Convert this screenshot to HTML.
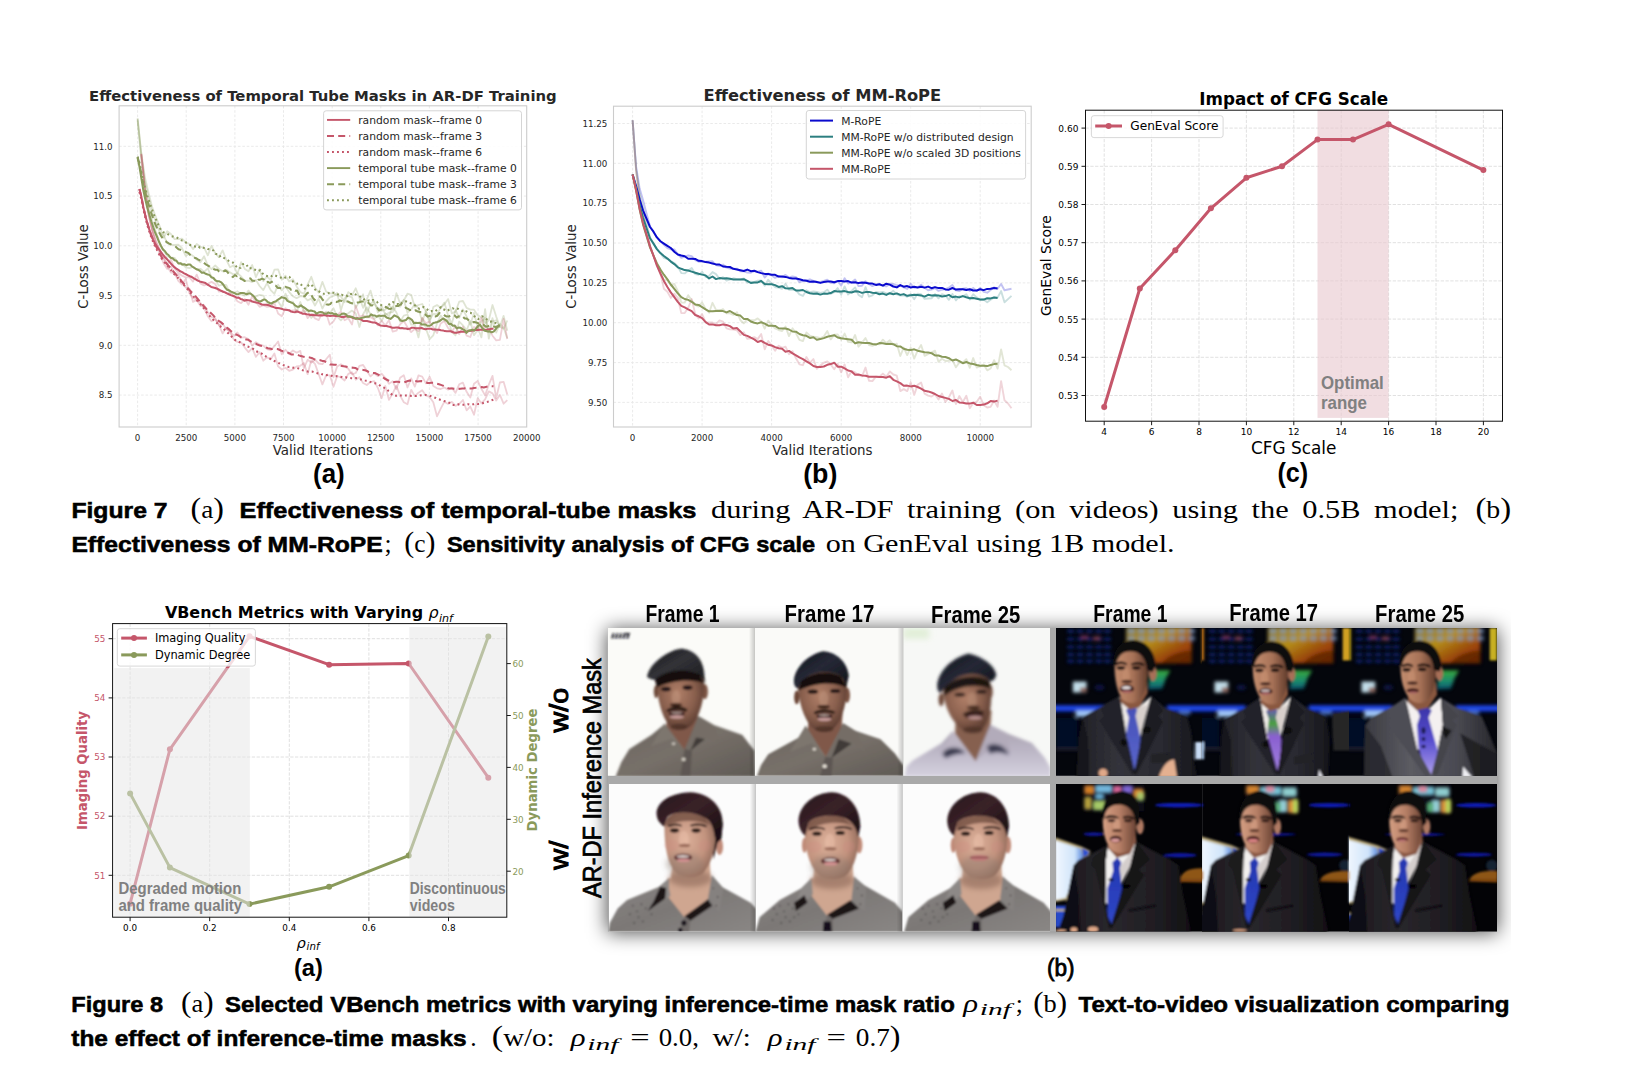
<!DOCTYPE html>
<html><head><meta charset="utf-8"><title>Figure 7 and Figure 8</title>
<style>html,body{margin:0;padding:0;background:#fff}svg{display:block}</style></head>
<body><svg width="1638" height="1084" viewBox="0 0 1638 1084">
<rect width="1638" height="1084" fill="#fff"/>
<g id="chartA">
<rect x="119.1" y="105.8" width="407.6" height="321.2" fill="#fff"/>
<line x1="137.6" y1="105.8" x2="137.6" y2="427.0" stroke="#e8e8e8" stroke-width="0.9" stroke-dasharray="2.6 1.8"/>
<text x="137.60" y="441.30" font-size="8.7" font-family="'DejaVu Sans','Liberation Sans',sans-serif" fill="#262626" text-anchor="middle">0</text>
<line x1="186.2" y1="105.8" x2="186.2" y2="427.0" stroke="#e8e8e8" stroke-width="0.9" stroke-dasharray="2.6 1.8"/>
<text x="186.24" y="441.30" font-size="8.7" font-family="'DejaVu Sans','Liberation Sans',sans-serif" fill="#262626" text-anchor="middle">2500</text>
<line x1="234.9" y1="105.8" x2="234.9" y2="427.0" stroke="#e8e8e8" stroke-width="0.9" stroke-dasharray="2.6 1.8"/>
<text x="234.88" y="441.30" font-size="8.7" font-family="'DejaVu Sans','Liberation Sans',sans-serif" fill="#262626" text-anchor="middle">5000</text>
<line x1="283.5" y1="105.8" x2="283.5" y2="427.0" stroke="#e8e8e8" stroke-width="0.9" stroke-dasharray="2.6 1.8"/>
<text x="283.52" y="441.30" font-size="8.7" font-family="'DejaVu Sans','Liberation Sans',sans-serif" fill="#262626" text-anchor="middle">7500</text>
<line x1="332.2" y1="105.8" x2="332.2" y2="427.0" stroke="#e8e8e8" stroke-width="0.9" stroke-dasharray="2.6 1.8"/>
<text x="332.16" y="441.30" font-size="8.7" font-family="'DejaVu Sans','Liberation Sans',sans-serif" fill="#262626" text-anchor="middle">10000</text>
<line x1="380.8" y1="105.8" x2="380.8" y2="427.0" stroke="#e8e8e8" stroke-width="0.9" stroke-dasharray="2.6 1.8"/>
<text x="380.80" y="441.30" font-size="8.7" font-family="'DejaVu Sans','Liberation Sans',sans-serif" fill="#262626" text-anchor="middle">12500</text>
<line x1="429.4" y1="105.8" x2="429.4" y2="427.0" stroke="#e8e8e8" stroke-width="0.9" stroke-dasharray="2.6 1.8"/>
<text x="429.44" y="441.30" font-size="8.7" font-family="'DejaVu Sans','Liberation Sans',sans-serif" fill="#262626" text-anchor="middle">15000</text>
<line x1="478.1" y1="105.8" x2="478.1" y2="427.0" stroke="#e8e8e8" stroke-width="0.9" stroke-dasharray="2.6 1.8"/>
<text x="478.08" y="441.30" font-size="8.7" font-family="'DejaVu Sans','Liberation Sans',sans-serif" fill="#262626" text-anchor="middle">17500</text>
<text x="526.72" y="441.30" font-size="8.7" font-family="'DejaVu Sans','Liberation Sans',sans-serif" fill="#262626" text-anchor="middle">20000</text>
<line x1="119.1" y1="395.1" x2="526.7" y2="395.1" stroke="#e8e8e8" stroke-width="0.9" stroke-dasharray="2.6 1.8"/>
<text x="112.50" y="398.35" font-size="8.7" font-family="'DejaVu Sans','Liberation Sans',sans-serif" fill="#262626" text-anchor="end">8.5</text>
<line x1="119.1" y1="345.3" x2="526.7" y2="345.3" stroke="#e8e8e8" stroke-width="0.9" stroke-dasharray="2.6 1.8"/>
<text x="112.50" y="348.60" font-size="8.7" font-family="'DejaVu Sans','Liberation Sans',sans-serif" fill="#262626" text-anchor="end">9.0</text>
<line x1="119.1" y1="295.6" x2="526.7" y2="295.6" stroke="#e8e8e8" stroke-width="0.9" stroke-dasharray="2.6 1.8"/>
<text x="112.50" y="298.85" font-size="8.7" font-family="'DejaVu Sans','Liberation Sans',sans-serif" fill="#262626" text-anchor="end">9.5</text>
<line x1="119.1" y1="245.8" x2="526.7" y2="245.8" stroke="#e8e8e8" stroke-width="0.9" stroke-dasharray="2.6 1.8"/>
<text x="112.50" y="249.10" font-size="8.7" font-family="'DejaVu Sans','Liberation Sans',sans-serif" fill="#262626" text-anchor="end">10.0</text>
<line x1="119.1" y1="196.1" x2="526.7" y2="196.1" stroke="#e8e8e8" stroke-width="0.9" stroke-dasharray="2.6 1.8"/>
<text x="112.50" y="199.35" font-size="8.7" font-family="'DejaVu Sans','Liberation Sans',sans-serif" fill="#262626" text-anchor="end">10.5</text>
<line x1="119.1" y1="146.3" x2="526.7" y2="146.3" stroke="#e8e8e8" stroke-width="0.9" stroke-dasharray="2.6 1.8"/>
<text x="112.50" y="149.60" font-size="8.7" font-family="'DejaVu Sans','Liberation Sans',sans-serif" fill="#262626" text-anchor="end">11.0</text>
<clipPath id="clipA"><rect x="119.1" y="105.8" width="407.6" height="321.2"/></clipPath>
<g clip-path="url(#clipA)">
<polyline points="137.6,118.2 141.3,153.0 145.0,177.6 148.7,193.5 152.4,207.9 156.1,217.5 159.8,226.4 163.5,237.8 167.2,231.3 170.9,234.0 174.6,239.1 178.3,239.2 182.0,238.6 185.7,242.4 189.4,243.8 193.0,249.1 196.7,244.0 200.4,246.8 204.1,247.7 207.8,255.3 211.5,245.9 215.2,253.1 218.9,257.1 222.6,250.4 226.3,259.9 230.0,267.2 233.7,265.4 237.4,274.0 241.1,262.2 244.8,268.9 248.5,271.3 252.2,265.0 255.9,277.1 259.6,269.2 263.3,281.2 267.0,276.5 270.7,280.0 274.4,269.7 278.1,269.4 281.8,279.7 285.5,275.7 289.2,281.4 292.9,279.2 296.6,286.4 300.3,292.1 303.9,293.8 307.6,284.6 311.3,276.8 315.0,287.6 318.7,292.8 322.4,281.9 326.1,291.5 329.8,293.4 333.5,293.5 337.2,295.4 340.9,296.4 344.6,302.3 348.3,292.1 352.0,295.3 355.7,288.3 359.4,297.9 363.1,307.8 366.8,299.3 370.5,290.6 374.2,303.7 377.9,308.1 381.6,310.9 385.3,309.6 389.0,304.8 392.7,309.6 396.4,293.2 400.1,303.3 403.8,300.5 407.5,293.7 411.2,294.8 414.8,306.9 418.5,305.0 422.2,304.0 425.9,311.4 429.6,323.1 433.3,307.0 437.0,305.1 440.7,307.8 444.4,304.3 448.1,299.1 451.8,313.3 455.5,311.7 459.2,301.7 462.9,301.0 466.6,307.9 470.3,309.6 474.0,309.7 477.7,315.4 481.4,317.4 485.1,323.2 488.8,320.3 492.5,305.0 496.2,316.6 499.9,326.8 503.6,315.9 507.3,330.8" fill="none" stroke="#8a9a5b" stroke-width="1.8" stroke-linejoin="round" stroke-opacity="0.27" />
<polyline points="137.6,119.2 141.3,154.7 145.0,182.6 148.7,198.2 152.4,213.5 156.1,222.5 159.8,232.8 163.5,234.8 167.2,243.1 170.9,244.7 174.6,245.0 178.3,244.7 182.0,248.2 185.7,255.9 189.4,253.5 193.0,256.0 196.7,259.5 200.4,262.3 204.1,256.3 207.8,265.5 211.5,269.1 215.2,265.5 218.9,268.9 222.6,271.3 226.3,269.7 230.0,272.4 233.7,274.5 237.4,273.2 241.1,276.5 244.8,280.8 248.5,280.6 252.2,282.1 255.9,279.9 259.6,286.0 263.3,290.1 267.0,283.1 270.7,290.1 274.4,293.8 278.1,284.7 281.8,290.4 285.5,286.2 289.2,292.1 292.9,296.2 296.6,298.2 300.3,296.2 303.9,296.4 307.6,300.4 311.3,298.6 315.0,305.5 318.7,298.7 322.4,308.5 326.1,301.3 329.8,297.5 333.5,296.0 337.2,292.9 340.9,310.2 344.6,298.2 348.3,296.0 352.0,297.4 355.7,307.9 359.4,301.4 363.1,294.3 366.8,313.9 370.5,303.8 374.2,301.2 377.9,312.4 381.6,305.7 385.3,314.7 389.0,312.7 392.7,312.1 396.4,305.6 400.1,306.7 403.8,299.8 407.5,312.7 411.2,309.4 414.8,304.3 418.5,308.4 422.2,321.9 425.9,311.0 429.6,319.8 433.3,313.9 437.0,314.1 440.7,307.7 444.4,302.6 448.1,315.4 451.8,323.8 455.5,310.0 459.2,317.9 462.9,309.4 466.6,316.5 470.3,324.7 474.0,313.0 477.7,327.4 481.4,337.4 485.1,309.1 488.8,338.7 492.5,321.4 496.2,320.3 499.9,327.0 503.6,328.6 507.3,320.5" fill="none" stroke="#8a9a5b" stroke-width="1.8" stroke-linejoin="round" stroke-opacity="0.27" />
<polyline points="137.6,120.5 141.3,160.5 145.0,188.5 148.7,205.8 152.4,221.6 156.1,232.2 159.8,242.8 163.5,250.4 167.2,256.4 170.9,257.3 174.6,257.8 178.3,263.7 182.0,263.5 185.7,267.4 189.4,268.1 193.0,267.0 196.7,269.6 200.4,268.8 204.1,271.9 207.8,268.4 211.5,277.2 215.2,280.0 218.9,285.7 222.6,284.7 226.3,285.1 230.0,293.1 233.7,293.4 237.4,291.2 241.1,294.3 244.8,295.7 248.5,290.6 252.2,295.8 255.9,296.4 259.6,294.8 263.3,295.7 267.0,302.8 270.7,304.4 274.4,301.4 278.1,301.3 281.8,307.2 285.5,293.6 289.2,302.0 292.9,301.6 296.6,312.5 300.3,302.0 303.9,311.9 307.6,310.6 311.3,317.9 315.0,313.0 318.7,314.5 322.4,315.4 326.1,311.7 329.8,313.0 333.5,308.3 337.2,316.7 340.9,320.4 344.6,316.0 348.3,313.2 352.0,310.6 355.7,313.5 359.4,327.0 363.1,314.3 366.8,307.4 370.5,314.2 374.2,318.7 377.9,315.5 381.6,321.1 385.3,313.4 389.0,316.1 392.7,306.7 396.4,312.5 400.1,321.7 403.8,315.6 407.5,314.5 411.2,324.6 414.8,324.7 418.5,337.4 422.2,318.1 425.9,328.5 429.6,339.1 433.3,335.3 437.0,323.6 440.7,315.5 444.4,320.8 448.1,319.2 451.8,331.9 455.5,335.3 459.2,321.5 462.9,325.4 466.6,330.3 470.3,321.0 474.0,335.2 477.7,330.0 481.4,321.6 485.1,318.0 488.8,332.3 492.5,318.1 496.2,332.6 499.9,324.0 503.6,327.7 507.3,338.2" fill="none" stroke="#8a9a5b" stroke-width="1.8" stroke-linejoin="round" stroke-opacity="0.27" />
<polyline points="141.3,154.6 145.0,191.7 148.7,216.0 152.4,231.7 156.1,245.0 159.8,254.2 163.5,263.2 167.2,268.9 170.9,266.5 174.6,273.4 178.3,280.9 182.0,284.5 185.7,278.9 189.4,293.2 193.0,298.0 196.7,299.3 200.4,302.7 204.1,308.4 207.8,316.3 211.5,321.3 215.2,319.2 218.9,324.8 222.6,333.4 226.3,327.6 230.0,332.4 233.7,339.3 237.4,341.9 241.1,342.3 244.8,347.6 248.5,352.1 252.2,348.2 255.9,356.8 259.6,352.1 263.3,360.7 267.0,357.4 270.7,359.2 274.4,353.5 278.1,366.4 281.8,369.5 285.5,367.8 289.2,370.8 292.9,369.6 296.6,366.4 300.3,365.8 303.9,363.0 307.6,374.2 311.3,360.3 315.0,363.9 318.7,374.2 322.4,384.4 326.1,375.3 329.8,375.3 333.5,386.8 337.2,376.0 340.9,377.5 344.6,380.5 348.3,373.9 352.0,372.3 355.7,379.7 359.4,377.3 363.1,383.0 366.8,385.0 370.5,382.0 374.2,381.1 377.9,388.0 381.6,398.2 385.3,386.0 389.0,399.9 392.7,393.3 396.4,385.7 400.1,395.6 403.8,402.3 407.5,404.2 411.2,389.8 414.8,396.1 418.5,392.7 422.2,390.3 425.9,395.6 429.6,396.9 433.3,402.2 437.0,416.3 440.7,408.7 444.4,401.7 448.1,403.9 451.8,401.9 455.5,405.9 459.2,404.0 462.9,400.0 466.6,410.3 470.3,406.5 474.0,414.7 477.7,398.2 481.4,403.2 485.1,399.3 488.8,391.4 492.5,393.4 496.2,400.5 499.9,394.9 503.6,403.7 507.3,400.2" fill="none" stroke="#c5566a" stroke-width="1.8" stroke-linejoin="round" stroke-opacity="0.27" />
<polyline points="141.3,154.0 145.0,188.6 148.7,214.4 152.4,230.2 156.1,242.4 159.8,250.5 163.5,256.4 167.2,266.3 170.9,272.5 174.6,273.1 178.3,274.8 182.0,282.5 185.7,287.5 189.4,288.5 193.0,301.9 196.7,299.9 200.4,306.1 204.1,305.1 207.8,312.3 211.5,317.3 215.2,318.2 218.9,325.1 222.6,323.7 226.3,329.2 230.0,331.4 233.7,335.9 237.4,332.5 241.1,337.7 244.8,337.2 248.5,339.1 252.2,345.5 255.9,342.2 259.6,344.6 263.3,345.6 267.0,349.1 270.7,350.1 274.4,346.2 278.1,341.5 281.8,354.3 285.5,349.7 289.2,354.2 292.9,350.4 296.6,352.7 300.3,350.9 303.9,368.2 307.6,359.8 311.3,362.5 315.0,359.7 318.7,363.5 322.4,364.2 326.1,359.2 329.8,354.7 333.5,377.3 337.2,366.4 340.9,364.2 344.6,366.3 348.3,368.7 352.0,374.3 355.7,373.0 359.4,365.8 363.1,365.0 366.8,370.8 370.5,376.4 374.2,373.1 377.9,376.2 381.6,373.7 385.3,377.8 389.0,383.7 392.7,381.3 396.4,389.2 400.1,377.8 403.8,375.2 407.5,387.5 411.2,378.4 414.8,386.6 418.5,375.4 422.2,376.6 425.9,383.4 429.6,376.7 433.3,386.0 437.0,388.3 440.7,389.0 444.4,387.5 448.1,389.6 451.8,387.8 455.5,392.9 459.2,384.3 462.9,382.6 466.6,391.8 470.3,397.5 474.0,383.8 477.7,381.0 481.4,388.7 485.1,395.4 488.8,384.7 492.5,375.9 496.2,398.0 499.9,382.5 503.6,381.8 507.3,394.4" fill="none" stroke="#c5566a" stroke-width="1.8" stroke-linejoin="round" stroke-opacity="0.27" />
<polyline points="141.3,153.7 145.0,189.4 148.7,213.0 152.4,230.6 156.1,241.4 159.8,249.5 163.5,258.7 167.2,264.3 170.9,259.4 174.6,268.4 178.3,272.8 182.0,275.7 185.7,277.3 189.4,277.1 193.0,281.6 196.7,274.6 200.4,283.5 204.1,285.4 207.8,283.8 211.5,281.9 215.2,284.0 218.9,291.5 222.6,290.8 226.3,292.9 230.0,293.3 233.7,295.9 237.4,301.2 241.1,303.2 244.8,299.0 248.5,304.7 252.2,296.4 255.9,302.0 259.6,306.8 263.3,305.2 267.0,306.8 270.7,306.4 274.4,303.1 278.1,313.5 281.8,316.2 285.5,308.2 289.2,311.1 292.9,310.5 296.6,310.1 300.3,313.4 303.9,310.0 307.6,318.1 311.3,314.2 315.0,318.4 318.7,320.1 322.4,312.6 326.1,313.0 329.8,324.7 333.5,321.3 337.2,315.1 340.9,311.7 344.6,320.2 348.3,318.2 352.0,324.5 355.7,305.7 359.4,316.5 363.1,315.3 366.8,317.4 370.5,317.0 374.2,319.6 377.9,325.4 381.6,320.8 385.3,325.5 389.0,320.2 392.7,331.6 396.4,330.7 400.1,324.3 403.8,321.0 407.5,327.3 411.2,332.1 414.8,328.9 418.5,331.2 422.2,317.7 425.9,323.4 429.6,321.4 433.3,327.5 437.0,333.1 440.7,323.5 444.4,321.1 448.1,328.0 451.8,332.2 455.5,325.6 459.2,334.2 462.9,326.8 466.6,335.6 470.3,337.0 474.0,327.0 477.7,328.1 481.4,317.5 485.1,331.0 488.8,328.6 492.5,335.7 496.2,340.4 499.9,339.9 503.6,319.0 507.3,339.0" fill="none" stroke="#c5566a" stroke-width="1.8" stroke-linejoin="round" stroke-opacity="0.27" />
<polyline points="139.4,189.0 141.3,196.4 143.2,206.4 145.2,215.1 147.1,222.3 149.1,228.9 151.0,234.5 153.0,239.4 154.9,243.3 156.9,246.3 158.8,249.2 160.8,251.9 162.7,254.4 164.6,256.7 166.6,258.8 168.5,260.9 170.5,263.2 172.4,265.3 174.4,267.2 176.3,268.6 178.3,269.9 180.2,271.3 182.2,272.1 184.1,273.4 186.0,274.3 188.0,275.3 189.9,276.2 191.9,277.0 193.8,278.3 195.8,279.3 197.7,280.6 199.7,281.4 201.6,281.9 203.6,282.5 205.5,283.1 207.4,284.5 209.4,285.7 211.3,287.0 213.3,287.5 215.2,288.0 217.2,288.8 219.1,289.7 221.1,290.8 223.0,291.7 225.0,292.4 226.9,293.4 228.8,294.3 230.8,295.1 232.7,295.8 234.7,296.5 236.6,297.7 238.6,297.6 240.5,298.9 242.5,299.5 244.4,300.7 246.4,300.1 248.3,300.2 250.3,300.4 252.2,301.6 254.1,302.1 256.1,302.4 258.0,302.7 260.0,303.7 261.9,304.5 263.9,304.7 265.8,304.8 267.8,305.0 269.7,305.6 271.7,306.6 273.6,307.1 275.5,307.9 277.5,307.9 279.4,308.3 281.4,308.7 283.3,309.4 285.3,309.7 287.2,309.9 289.2,310.2 291.1,311.6 293.1,312.1 295.0,312.2 296.9,311.5 298.9,312.1 300.8,312.8 302.8,313.7 304.7,313.7 306.7,314.2 308.6,314.4 310.6,315.0 312.5,314.8 314.5,315.3 316.4,315.1 318.3,315.5 320.3,315.3 322.2,315.4 324.2,315.1 326.1,315.6 328.1,315.6 330.0,315.9 332.0,315.7 333.9,315.7 335.9,316.0 337.8,315.7 339.7,316.4 341.7,316.9 343.6,317.0 345.6,316.5 347.5,316.2 349.5,316.5 351.4,317.3 353.4,318.0 355.3,318.5 357.3,318.3 359.2,318.9 361.1,319.5 363.1,320.9 365.0,320.9 367.0,321.0 368.9,321.4 370.9,322.0 372.8,322.4 374.8,322.6 376.7,323.3 378.7,324.5 380.6,325.6 382.6,325.7 384.5,326.1 386.4,326.0 388.4,326.6 390.3,327.0 392.3,327.7 394.2,327.8 396.2,327.6 398.1,327.5 400.1,328.2 402.0,328.0 404.0,328.4 405.9,328.6 407.8,329.1 409.8,328.8 411.7,327.7 413.7,327.7 415.6,328.2 417.6,328.2 419.5,328.2 421.5,327.9 423.4,328.8 425.4,329.2 427.3,328.8 429.2,328.7 431.2,328.8 433.1,329.6 435.1,329.4 437.0,329.7 439.0,329.7 440.9,330.3 442.9,330.4 444.8,331.1 446.8,331.3 448.7,331.2 450.6,331.3 452.6,332.0 454.5,332.8 456.5,332.7 458.4,332.3 460.4,331.8 462.3,331.7 464.3,331.8 466.2,331.4 468.2,331.2 470.1,330.6 472.0,330.6 474.0,330.3 475.9,330.0 477.9,330.1 479.8,329.8 481.8,329.7 483.7,329.4 485.7,329.9 487.6,329.5 489.6,329.3 491.5,328.8 493.5,328.8" fill="none" stroke="#c5566a" stroke-width="2.05" stroke-linejoin="round" stroke-linecap="butt"/>
<polyline points="139.4,189.0 141.3,196.4 143.2,206.4 145.2,215.1 147.1,222.4 149.1,229.0 151.0,234.6 153.0,239.7 154.9,244.2 156.9,248.0 158.8,251.8 160.8,255.4 162.7,258.7 164.6,261.3 166.6,263.5 168.5,265.6 170.5,268.0 172.4,270.4 174.4,272.7 176.3,274.9 178.3,277.1 180.2,279.4 182.2,281.8 184.1,284.0 186.0,286.2 188.0,288.4 189.9,290.5 191.9,292.5 193.8,294.3 195.8,296.6 197.7,298.9 199.7,301.4 201.6,303.3 203.6,305.9 205.5,307.9 207.4,310.2 209.4,311.6 211.3,313.4 213.3,315.4 215.2,317.7 217.2,319.6 219.1,321.1 221.1,322.4 223.0,324.0 225.0,325.9 226.9,327.7 228.8,329.1 230.8,330.9 232.7,332.6 234.7,333.9 236.6,334.7 238.6,335.7 240.5,336.9 242.5,338.1 244.4,338.9 246.4,339.6 248.3,339.8 250.3,341.2 252.2,342.3 254.1,343.2 256.1,343.8 258.0,344.8 260.0,345.6 261.9,346.1 263.9,346.5 265.8,347.3 267.8,348.2 269.7,348.6 271.7,349.1 273.6,348.8 275.5,348.8 277.5,349.0 279.4,349.8 281.4,350.7 283.3,351.3 285.3,351.3 287.2,352.3 289.2,353.2 291.1,354.4 293.1,354.4 295.0,354.5 296.9,354.6 298.9,355.4 300.8,356.1 302.8,356.6 304.7,357.0 306.7,357.4 308.6,357.3 310.6,357.7 312.5,358.3 314.5,359.4 316.4,359.7 318.3,359.9 320.3,360.2 322.2,360.9 324.2,361.1 326.1,362.0 328.1,363.0 330.0,364.4 332.0,364.4 333.9,364.8 335.9,364.8 337.8,365.5 339.7,365.6 341.7,365.9 343.6,366.2 345.6,366.4 347.5,367.0 349.5,367.5 351.4,367.6 353.4,367.7 355.3,367.9 357.3,369.2 359.2,369.7 361.1,369.8 363.1,369.9 365.0,370.2 367.0,371.0 368.9,372.1 370.9,372.8 372.8,373.0 374.8,373.0 376.7,373.9 378.7,374.9 380.6,376.1 382.6,377.0 384.5,378.5 386.4,379.5 388.4,380.5 390.3,381.2 392.3,381.9 394.2,382.0 396.2,381.8 398.1,381.8 400.1,382.2 402.0,382.4 404.0,382.3 405.9,381.7 407.8,381.1 409.8,380.6 411.7,380.6 413.7,380.8 415.6,381.1 417.6,381.5 419.5,381.3 421.5,381.1 423.4,381.4 425.4,382.2 427.3,382.9 429.2,382.9 431.2,382.7 433.1,382.8 435.1,383.1 437.0,383.7 439.0,384.2 440.9,384.9 442.9,385.6 444.8,386.5 446.8,387.7 448.7,388.4 450.6,388.4 452.6,388.6 454.5,388.9 456.5,389.2 458.4,388.9 460.4,388.8 462.3,388.6 464.3,388.4 466.2,387.9 468.2,388.4 470.1,388.4 472.0,388.4 474.0,387.9 475.9,387.7 477.9,387.3 479.8,387.2 481.8,387.1 483.7,387.4 485.7,386.9 487.6,386.6 489.6,386.1 491.5,386.2 493.5,386.3" fill="none" stroke="#c5566a" stroke-width="2.05" stroke-linejoin="round" stroke-dasharray="7 4.2" stroke-linecap="butt"/>
<polyline points="139.4,191.8 141.3,198.9 143.2,208.5 145.2,217.2 147.1,224.4 149.1,230.9 151.0,236.5 153.0,241.5 154.9,246.0 156.9,249.9 158.8,253.8 160.8,257.3 162.7,260.1 164.6,262.5 166.6,264.6 168.5,266.9 170.5,269.4 172.4,271.9 174.4,274.3 176.3,276.2 178.3,278.2 180.2,280.4 182.2,282.8 184.1,285.2 186.0,287.5 188.0,289.9 189.9,292.4 191.9,294.5 193.8,296.9 195.8,298.9 197.7,301.3 199.7,303.3 201.6,305.5 203.6,308.0 205.5,310.7 207.4,313.3 209.4,315.6 211.3,317.7 213.3,319.8 215.2,321.3 217.2,323.3 219.1,325.2 221.1,326.9 223.0,328.0 225.0,330.2 226.9,331.9 228.8,333.8 230.8,335.4 232.7,338.0 234.7,339.7 236.6,340.9 238.6,341.6 240.5,342.6 242.5,343.7 244.4,344.8 246.4,346.0 248.3,346.8 250.3,347.4 252.2,348.2 254.1,349.5 256.1,351.1 258.0,352.0 260.0,352.9 261.9,353.7 263.9,355.5 265.8,356.4 267.8,357.6 269.7,358.4 271.7,359.8 273.6,360.7 275.5,361.5 277.5,362.4 279.4,363.4 281.4,364.4 283.3,365.1 285.3,365.8 287.2,366.6 289.2,367.1 291.1,367.1 293.1,367.7 295.0,367.6 296.9,368.0 298.9,368.6 300.8,369.3 302.8,370.2 304.7,370.7 306.7,371.3 308.6,371.7 310.6,371.6 312.5,371.6 314.5,372.3 316.4,373.0 318.3,373.5 320.3,373.3 322.2,374.3 324.2,374.5 326.1,375.2 328.1,374.6 330.0,375.4 332.0,375.9 333.9,376.5 335.9,376.2 337.8,376.1 339.7,376.8 341.7,377.0 343.6,377.6 345.6,377.3 347.5,377.9 349.5,378.0 351.4,378.2 353.4,378.3 355.3,378.1 357.3,378.2 359.2,378.6 361.1,379.5 363.1,380.3 365.0,380.6 367.0,380.7 368.9,381.3 370.9,382.1 372.8,382.9 374.8,383.2 376.7,383.7 378.7,384.7 380.6,386.0 382.6,387.1 384.5,387.9 386.4,388.6 388.4,390.9 390.3,392.7 392.3,395.2 394.2,395.3 396.2,395.8 398.1,395.1 400.1,395.5 402.0,395.4 404.0,395.6 405.9,395.5 407.8,395.8 409.8,395.7 411.7,395.9 413.7,395.9 415.6,396.1 417.6,395.9 419.5,395.6 421.5,395.2 423.4,395.1 425.4,394.9 427.3,395.1 429.2,395.5 431.2,396.3 433.1,397.0 435.1,397.7 437.0,398.6 439.0,399.3 440.9,400.1 442.9,400.6 444.8,401.2 446.8,401.5 448.7,402.5 450.6,403.4 452.6,405.0 454.5,405.1 456.5,405.0 458.4,404.3 460.4,404.5 462.3,404.8 464.3,404.8 466.2,404.6 468.2,404.2 470.1,404.7 472.0,404.2 474.0,404.2 475.9,403.7 477.9,404.1 479.8,404.0 481.8,403.6 483.7,402.8 485.7,402.2 487.6,401.8 489.6,401.3 491.5,400.3 493.5,399.6" fill="none" stroke="#c5566a" stroke-width="2.05" stroke-linejoin="round" stroke-dasharray="1.9 3.1" stroke-linecap="butt"/>
<polyline points="137.6,157.9 139.5,166.8 141.5,179.1 143.4,190.5 145.4,199.8 147.3,207.8 149.3,214.4 151.2,221.3 153.2,227.3 155.1,232.5 157.1,237.0 159.0,241.8 160.9,245.7 162.9,249.4 164.8,251.0 166.8,253.8 168.7,255.3 170.7,257.8 172.6,258.3 174.6,260.3 176.5,260.8 178.5,263.5 180.4,263.2 182.3,264.6 184.3,264.2 186.2,265.2 188.2,264.6 190.1,264.5 192.1,266.5 194.0,267.7 196.0,269.0 197.9,269.7 199.9,270.9 201.8,272.8 203.8,272.5 205.7,273.8 207.6,274.4 209.6,275.1 211.5,277.3 213.5,278.0 215.4,280.4 217.4,281.2 219.3,281.3 221.3,282.3 223.2,284.5 225.2,287.6 227.1,289.7 229.0,290.3 231.0,291.6 232.9,292.4 234.9,293.3 236.8,294.3 238.8,293.9 240.7,293.0 242.7,293.0 244.6,293.3 246.6,294.4 248.5,293.5 250.4,293.5 252.4,295.0 254.3,296.9 256.3,299.9 258.2,300.9 260.2,301.6 262.1,300.5 264.1,299.4 266.0,300.1 268.0,302.1 269.9,303.0 271.8,303.4 273.8,301.9 275.7,301.6 277.7,299.8 279.6,298.7 281.6,297.1 283.5,297.8 285.5,298.2 287.4,300.8 289.4,301.8 291.3,302.6 293.2,303.4 295.2,305.5 297.1,306.7 299.1,306.7 301.0,305.4 303.0,307.0 304.9,308.0 306.9,309.6 308.8,310.9 310.8,310.5 312.7,311.1 314.6,311.5 316.6,313.7 318.5,312.5 320.5,312.0 322.4,312.3 324.4,313.8 326.3,313.8 328.3,312.5 330.2,313.4 332.2,313.1 334.1,314.2 336.1,314.0 338.0,315.5 339.9,315.2 341.9,313.7 343.8,313.6 345.8,314.2 347.7,316.6 349.7,316.6 351.6,316.8 353.6,317.7 355.5,318.7 357.5,318.6 359.4,318.5 361.3,317.9 363.3,317.6 365.2,317.1 367.2,316.6 369.1,316.6 371.1,314.4 373.0,315.5 375.0,315.5 376.9,316.7 378.9,315.6 380.8,315.9 382.7,315.7 384.7,315.7 386.6,317.5 388.6,318.2 390.5,318.9 392.5,317.2 394.4,315.3 396.4,316.4 398.3,317.4 400.3,320.2 402.2,321.0 404.1,320.4 406.1,319.9 408.0,317.8 410.0,318.5 411.9,319.8 413.9,323.1 415.8,322.8 417.8,322.9 419.7,322.8 421.7,324.4 423.6,324.4 425.5,324.5 427.5,325.8 429.4,325.8 431.4,324.8 433.3,323.0 435.3,322.6 437.2,322.0 439.2,321.3 441.1,319.9 443.1,318.5 445.0,319.6 447.0,321.1 448.9,324.0 450.8,323.7 452.8,325.8 454.7,325.6 456.7,328.3 458.6,327.6 460.6,327.8 462.5,329.1 464.5,330.2 466.4,332.9 468.4,330.6 470.3,330.6 472.2,329.7 474.2,330.6 476.1,328.4 478.1,325.9 480.0,324.8 482.0,327.7 483.9,330.2 485.9,331.1 487.8,331.5 489.8,331.3 491.7,332.3 493.6,331.6 495.6,329.3 497.5,326.9 499.5,324.8" fill="none" stroke="#8a9a5b" stroke-width="2.05" stroke-linejoin="round" stroke-linecap="butt"/>
<polyline points="137.6,157.0 139.5,164.2 141.5,174.5 143.4,184.4 145.4,192.9 147.3,200.4 149.3,206.5 151.2,212.8 153.2,218.5 155.1,223.8 157.1,228.1 159.0,232.1 160.9,235.6 162.9,238.6 164.8,240.6 166.8,242.1 168.7,243.4 170.7,244.3 172.6,245.1 174.6,245.7 176.5,247.4 178.5,249.2 180.4,249.7 182.3,250.6 184.3,250.8 186.2,252.2 188.2,252.9 190.1,254.9 192.1,256.2 194.0,257.6 196.0,258.2 197.9,259.3 199.9,260.3 201.8,261.5 203.8,262.8 205.7,264.3 207.6,265.3 209.6,266.6 211.5,268.1 213.5,269.1 215.4,269.7 217.4,269.7 219.3,271.9 221.3,271.9 223.2,271.7 225.2,270.4 227.1,271.6 229.0,274.0 231.0,275.3 232.9,277.1 234.9,275.1 236.8,276.2 238.8,275.3 240.7,278.7 242.7,279.6 244.6,281.0 246.6,279.6 248.5,278.6 250.4,278.4 252.4,280.8 254.3,280.8 256.3,282.1 258.2,279.8 260.2,279.7 262.1,278.7 264.1,279.7 266.0,282.7 268.0,281.8 269.9,283.0 271.8,281.7 273.8,284.9 275.7,285.6 277.7,287.9 279.6,287.9 281.6,288.3 283.5,287.7 285.5,287.1 287.4,287.4 289.4,288.1 291.3,289.9 293.2,289.4 295.2,290.8 297.1,290.6 299.1,294.4 301.0,295.4 303.0,296.7 304.9,296.0 306.9,293.5 308.8,292.4 310.8,293.9 312.7,297.5 314.6,300.1 316.6,297.9 318.5,296.6 320.5,296.6 322.4,299.5 324.4,301.5 326.3,304.3 328.3,304.8 330.2,304.1 332.2,301.7 334.1,301.7 336.1,302.1 338.0,301.5 339.9,300.4 341.9,300.9 343.8,301.8 345.8,301.6 347.7,301.4 349.7,302.5 351.6,303.3 353.6,303.4 355.5,303.6 357.5,302.5 359.4,302.3 361.3,301.5 363.3,301.5 365.2,301.4 367.2,301.7 369.1,303.5 371.1,305.4 373.0,305.2 375.0,306.5 376.9,307.4 378.9,310.4 380.8,309.9 382.7,309.1 384.7,307.2 386.6,307.3 388.6,308.7 390.5,308.9 392.5,307.7 394.4,306.0 396.4,306.0 398.3,306.0 400.3,304.6 402.2,304.3 404.1,305.9 406.1,308.0 408.0,308.9 410.0,310.1 411.9,309.9 413.9,311.2 415.8,310.3 417.8,311.6 419.7,312.1 421.7,312.1 423.6,313.5 425.5,314.7 427.5,316.6 429.4,316.0 431.4,315.7 433.3,316.5 435.3,316.4 437.2,315.8 439.2,313.1 441.1,313.7 443.1,313.8 445.0,315.7 447.0,316.6 448.9,316.5 450.8,315.2 452.8,314.7 454.7,315.5 456.7,317.6 458.6,316.3 460.6,316.9 462.5,316.1 464.5,318.4 466.4,318.4 468.4,320.0 470.3,321.8 472.2,322.4 474.2,322.0 476.1,322.4 478.1,323.2 480.0,324.5 482.0,324.3 483.9,324.9 485.9,326.7 487.8,326.2 489.8,325.6 491.7,325.7 493.6,326.5 495.6,326.9 497.5,326.3 499.5,326.6" fill="none" stroke="#8a9a5b" stroke-width="2.05" stroke-linejoin="round" stroke-dasharray="7 4.2" stroke-linecap="butt"/>
<polyline points="137.6,156.6 139.5,163.0 141.5,172.4 143.4,181.3 145.4,189.2 147.3,195.8 149.3,201.6 151.2,207.1 153.2,212.6 155.1,217.5 157.1,222.0 159.0,226.4 160.9,229.9 162.9,232.1 164.8,232.9 166.8,233.5 168.7,234.7 170.7,235.9 172.6,236.5 174.6,236.7 176.5,237.4 178.5,238.5 180.4,240.0 182.3,240.6 184.3,240.8 186.2,242.7 188.2,243.5 190.1,245.0 192.1,245.6 194.0,246.2 196.0,246.7 197.9,245.9 199.9,247.7 201.8,247.0 203.8,247.9 205.7,247.9 207.6,249.0 209.6,249.4 211.5,249.4 213.5,250.6 215.4,253.8 217.4,254.2 219.3,256.5 221.3,255.7 223.2,257.4 225.2,258.7 227.1,259.8 229.0,261.0 231.0,261.5 232.9,262.5 234.9,265.2 236.8,266.9 238.8,268.7 240.7,267.7 242.7,264.3 244.6,263.7 246.6,264.7 248.5,268.3 250.4,268.2 252.4,268.1 254.3,269.5 256.3,270.0 258.2,271.1 260.2,270.1 262.1,273.1 264.1,275.0 266.0,275.7 268.0,276.2 269.9,275.2 271.8,276.1 273.8,275.1 275.7,275.7 277.7,276.4 279.6,276.8 281.6,278.0 283.5,278.8 285.5,277.5 287.4,276.8 289.4,276.9 291.3,279.6 293.2,281.7 295.2,282.6 297.1,283.7 299.1,283.0 301.0,284.5 303.0,286.8 304.9,288.6 306.9,288.0 308.8,284.8 310.8,284.2 312.7,286.2 314.6,288.9 316.6,291.2 318.5,291.2 320.5,292.4 322.4,293.6 324.4,293.8 326.3,293.6 328.3,293.1 330.2,293.8 332.2,292.8 334.1,292.8 336.1,293.3 338.0,294.3 339.9,295.7 341.9,294.8 343.8,296.1 345.8,295.4 347.7,295.9 349.7,294.0 351.6,293.9 353.6,293.3 355.5,294.4 357.5,295.3 359.4,296.0 361.3,297.7 363.3,298.5 365.2,300.6 367.2,301.2 369.1,300.4 371.1,301.1 373.0,300.0 375.0,301.1 376.9,301.8 378.9,304.4 380.8,304.8 382.7,306.0 384.7,306.8 386.6,307.4 388.6,305.0 390.5,302.9 392.5,302.0 394.4,302.4 396.4,304.0 398.3,304.0 400.3,305.0 402.2,302.4 404.1,302.2 406.1,301.3 408.0,302.5 410.0,303.1 411.9,303.6 413.9,304.5 415.8,306.0 417.8,308.1 419.7,308.9 421.7,308.1 423.6,307.0 425.5,308.3 427.5,309.7 429.4,311.4 431.4,311.0 433.3,311.8 435.3,311.1 437.2,309.7 439.2,308.4 441.1,307.1 443.1,309.1 445.0,310.0 447.0,311.1 448.9,309.8 450.8,309.2 452.8,308.3 454.7,309.3 456.7,308.5 458.6,309.0 460.6,310.0 462.5,311.1 464.5,312.5 466.4,311.3 468.4,312.7 470.3,312.8 472.2,313.7 474.2,316.0 476.1,318.2 478.1,319.1 480.0,317.8 482.0,316.3 483.9,317.0 485.9,318.7 487.8,320.0 489.8,321.6 491.7,321.6 493.6,323.1 495.6,323.0 497.5,324.8 499.5,326.0" fill="none" stroke="#8a9a5b" stroke-width="2.05" stroke-linejoin="round" stroke-dasharray="1.9 3.1" stroke-linecap="butt"/>
</g>
<rect x="119.1" y="105.8" width="407.6" height="321.2" fill="none" stroke="#cccccc" stroke-width="1.1"/>
<rect x="323.6" y="110.8" width="197.9" height="99.1" rx="2.5" fill="#fff" fill-opacity="0.85" stroke="#d0d0d0" stroke-width="0.9"/>
<line x1="327" y1="119.9" x2="350.2" y2="119.9" stroke="#c5566a" stroke-width="1.9"/>
<text x="358.20" y="123.80" font-size="10.75" font-family="'DejaVu Sans','Liberation Sans',sans-serif" fill="#262626">random mask--frame 0</text>
<line x1="327" y1="136.0" x2="350.2" y2="136.0" stroke="#c5566a" stroke-width="1.9" stroke-dasharray="7 4.2"/>
<text x="358.20" y="139.87" font-size="10.75" font-family="'DejaVu Sans','Liberation Sans',sans-serif" fill="#262626">random mask--frame 3</text>
<line x1="327" y1="152.0" x2="350.2" y2="152.0" stroke="#c5566a" stroke-width="1.9" stroke-dasharray="1.9 3.1"/>
<text x="358.20" y="155.94" font-size="10.75" font-family="'DejaVu Sans','Liberation Sans',sans-serif" fill="#262626">random mask--frame 6</text>
<line x1="327" y1="168.1" x2="350.2" y2="168.1" stroke="#8a9a5b" stroke-width="1.9"/>
<text x="358.20" y="172.01" font-size="10.75" font-family="'DejaVu Sans','Liberation Sans',sans-serif" fill="#262626">temporal tube mask--frame 0</text>
<line x1="327" y1="184.2" x2="350.2" y2="184.2" stroke="#8a9a5b" stroke-width="1.9" stroke-dasharray="7 4.2"/>
<text x="358.20" y="188.08" font-size="10.75" font-family="'DejaVu Sans','Liberation Sans',sans-serif" fill="#262626">temporal tube mask--frame 3</text>
<line x1="327" y1="200.2" x2="350.2" y2="200.2" stroke="#8a9a5b" stroke-width="1.9" stroke-dasharray="1.9 3.1"/>
<text x="358.20" y="204.15" font-size="10.75" font-family="'DejaVu Sans','Liberation Sans',sans-serif" fill="#262626">temporal tube mask--frame 6</text>
<text x="322.90" y="100.80" font-size="14.83" font-family="'DejaVu Sans','Liberation Sans',sans-serif" fill="#262626" font-weight="bold" text-anchor="middle">Effectiveness of Temporal Tube Masks in AR-DF Training</text>
<text x="322.90" y="454.90" font-size="13.4" font-family="'DejaVu Sans','Liberation Sans',sans-serif" fill="#262626" text-anchor="middle">Valid Iterations</text>
<text x="88.00" y="266.50" font-size="13.4" font-family="'DejaVu Sans','Liberation Sans',sans-serif" fill="#262626" text-anchor="middle" transform="rotate(-90 88.00 266.50)">C-Loss Value</text>
</g>
<g id="chartB">
<rect x="613.5" y="106.2" width="417.70000000000005" height="320.8" fill="#fff"/>
<line x1="632.6" y1="106.2" x2="632.6" y2="427.0" stroke="#e8e8e8" stroke-width="0.9" stroke-dasharray="2.6 1.8"/>
<text x="632.60" y="441.30" font-size="8.7" font-family="'DejaVu Sans','Liberation Sans',sans-serif" fill="#262626" text-anchor="middle">0</text>
<line x1="702.1" y1="106.2" x2="702.1" y2="427.0" stroke="#e8e8e8" stroke-width="0.9" stroke-dasharray="2.6 1.8"/>
<text x="702.12" y="441.30" font-size="8.7" font-family="'DejaVu Sans','Liberation Sans',sans-serif" fill="#262626" text-anchor="middle">2000</text>
<line x1="771.6" y1="106.2" x2="771.6" y2="427.0" stroke="#e8e8e8" stroke-width="0.9" stroke-dasharray="2.6 1.8"/>
<text x="771.64" y="441.30" font-size="8.7" font-family="'DejaVu Sans','Liberation Sans',sans-serif" fill="#262626" text-anchor="middle">4000</text>
<line x1="841.2" y1="106.2" x2="841.2" y2="427.0" stroke="#e8e8e8" stroke-width="0.9" stroke-dasharray="2.6 1.8"/>
<text x="841.16" y="441.30" font-size="8.7" font-family="'DejaVu Sans','Liberation Sans',sans-serif" fill="#262626" text-anchor="middle">6000</text>
<line x1="910.7" y1="106.2" x2="910.7" y2="427.0" stroke="#e8e8e8" stroke-width="0.9" stroke-dasharray="2.6 1.8"/>
<text x="910.68" y="441.30" font-size="8.7" font-family="'DejaVu Sans','Liberation Sans',sans-serif" fill="#262626" text-anchor="middle">8000</text>
<line x1="980.2" y1="106.2" x2="980.2" y2="427.0" stroke="#e8e8e8" stroke-width="0.9" stroke-dasharray="2.6 1.8"/>
<text x="980.20" y="441.30" font-size="8.7" font-family="'DejaVu Sans','Liberation Sans',sans-serif" fill="#262626" text-anchor="middle">10000</text>
<line x1="613.5" y1="402.4" x2="1031.2" y2="402.4" stroke="#e8e8e8" stroke-width="0.9" stroke-dasharray="2.6 1.8"/>
<text x="607.30" y="405.70" font-size="8.7" font-family="'DejaVu Sans','Liberation Sans',sans-serif" fill="#262626" text-anchor="end">9.50</text>
<line x1="613.5" y1="362.6" x2="1031.2" y2="362.6" stroke="#e8e8e8" stroke-width="0.9" stroke-dasharray="2.6 1.8"/>
<text x="607.30" y="365.85" font-size="8.7" font-family="'DejaVu Sans','Liberation Sans',sans-serif" fill="#262626" text-anchor="end">9.75</text>
<line x1="613.5" y1="322.7" x2="1031.2" y2="322.7" stroke="#e8e8e8" stroke-width="0.9" stroke-dasharray="2.6 1.8"/>
<text x="607.30" y="326.00" font-size="8.7" font-family="'DejaVu Sans','Liberation Sans',sans-serif" fill="#262626" text-anchor="end">10.00</text>
<line x1="613.5" y1="282.9" x2="1031.2" y2="282.9" stroke="#e8e8e8" stroke-width="0.9" stroke-dasharray="2.6 1.8"/>
<text x="607.30" y="286.15" font-size="8.7" font-family="'DejaVu Sans','Liberation Sans',sans-serif" fill="#262626" text-anchor="end">10.25</text>
<line x1="613.5" y1="243.0" x2="1031.2" y2="243.0" stroke="#e8e8e8" stroke-width="0.9" stroke-dasharray="2.6 1.8"/>
<text x="607.30" y="246.30" font-size="8.7" font-family="'DejaVu Sans','Liberation Sans',sans-serif" fill="#262626" text-anchor="end">10.50</text>
<line x1="613.5" y1="203.2" x2="1031.2" y2="203.2" stroke="#e8e8e8" stroke-width="0.9" stroke-dasharray="2.6 1.8"/>
<text x="607.30" y="206.45" font-size="8.7" font-family="'DejaVu Sans','Liberation Sans',sans-serif" fill="#262626" text-anchor="end">10.75</text>
<line x1="613.5" y1="163.3" x2="1031.2" y2="163.3" stroke="#e8e8e8" stroke-width="0.9" stroke-dasharray="2.6 1.8"/>
<text x="607.30" y="166.60" font-size="8.7" font-family="'DejaVu Sans','Liberation Sans',sans-serif" fill="#262626" text-anchor="end">11.00</text>
<line x1="613.5" y1="123.5" x2="1031.2" y2="123.5" stroke="#e8e8e8" stroke-width="0.9" stroke-dasharray="2.6 1.8"/>
<text x="607.30" y="126.75" font-size="8.7" font-family="'DejaVu Sans','Liberation Sans',sans-serif" fill="#262626" text-anchor="end">11.25</text>
<clipPath id="clipB"><rect x="613.5" y="106.2" width="417.70000000000005" height="320.8"/></clipPath>
<g clip-path="url(#clipB)">
<polyline points="632.6,120.2 636.1,166.4 639.6,188.3 643.0,200.0 646.5,213.4 650.0,226.0 653.5,232.0 656.9,237.2 660.4,241.1 663.9,244.9 667.4,248.1 670.8,249.3 674.3,249.4 677.8,254.1 681.3,257.9 684.7,256.6 688.2,255.5 691.7,256.1 695.2,260.1 698.6,261.7 702.1,261.5 705.6,261.7 709.1,261.5 712.5,261.3 716.0,265.1 719.5,266.1 723.0,264.5 726.5,267.7 729.9,268.6 733.4,268.9 736.9,268.6 740.4,271.4 743.8,271.3 747.3,272.5 750.8,272.7 754.3,271.1 757.7,271.6 761.2,270.6 764.7,277.5 768.2,273.5 771.6,275.3 775.1,277.9 778.6,276.2 782.1,277.3 785.5,274.9 789.0,277.5 792.5,276.4 796.0,277.1 799.4,282.2 802.9,281.1 806.4,280.3 809.9,279.3 813.4,280.8 816.8,281.7 820.3,282.0 823.8,280.9 827.3,279.6 830.7,282.9 834.2,283.2 837.7,280.9 841.2,285.6 844.6,278.2 848.1,283.5 851.6,282.3 855.1,279.5 858.5,286.1 862.0,285.7 865.5,281.2 869.0,283.9 872.4,286.1 875.9,284.4 879.4,284.0 882.9,285.8 886.3,286.4 889.8,283.7 893.3,284.0 896.8,285.3 900.3,285.4 903.7,287.5 907.2,289.0 910.7,283.8 914.2,287.8 917.6,287.4 921.1,284.7 924.6,287.7 928.1,290.2 931.5,289.5 935.0,288.1 938.5,290.9 942.0,289.7 945.4,289.0 948.9,287.5 952.4,285.0 955.9,290.4 959.3,291.1 962.8,288.8 966.3,288.3 969.8,291.0 973.2,288.0 976.7,291.0 980.2,288.0 983.7,291.8 987.2,292.7 990.6,289.9 994.1,287.3 997.6,288.7 1001.1,284.0 1004.5,290.3 1008.0,289.5 1011.5,288.7" fill="none" stroke="#0a0acd" stroke-width="1.9" stroke-linejoin="round" stroke-opacity="0.25" />
<polyline points="632.6,120.2 636.1,168.8 639.6,193.6 643.0,207.5 646.5,222.8 650.0,237.2 653.5,243.5 656.9,249.0 660.4,253.2 663.9,258.0 667.4,258.8 670.8,261.0 674.3,263.0 677.8,266.4 681.3,273.1 684.7,273.4 688.2,270.5 691.7,268.1 695.2,274.0 698.6,274.8 702.1,271.9 705.6,277.0 709.1,275.8 712.5,272.1 716.0,274.1 719.5,278.9 723.0,277.1 726.5,280.5 729.9,279.7 733.4,278.3 736.9,279.1 740.4,279.3 743.8,278.5 747.3,282.5 750.8,281.7 754.3,281.9 757.7,280.6 761.2,280.4 764.7,285.8 768.2,279.8 771.6,283.4 775.1,287.2 778.6,287.5 782.1,288.8 785.5,283.7 789.0,289.7 792.5,289.9 796.0,290.2 799.4,294.4 802.9,295.9 806.4,290.3 809.9,292.3 813.4,291.5 816.8,291.9 820.3,292.9 823.8,292.2 827.3,289.7 830.7,294.0 834.2,292.2 837.7,288.1 841.2,294.6 844.6,286.4 848.1,294.5 851.6,290.9 855.1,287.4 858.5,294.9 862.0,297.2 865.5,287.2 869.0,296.6 872.4,295.3 875.9,292.0 879.4,292.4 882.9,292.0 886.3,293.4 889.8,293.4 893.3,290.8 896.8,294.4 900.3,295.5 903.7,295.2 907.2,296.9 910.7,293.9 914.2,299.2 917.6,293.8 921.1,294.3 924.6,298.8 928.1,298.5 931.5,298.4 935.0,294.1 938.5,298.3 942.0,294.2 945.4,295.3 948.9,299.8 952.4,293.9 955.9,300.3 959.3,296.1 962.8,296.4 966.3,294.3 969.8,299.6 973.2,294.3 976.7,297.4 980.2,299.8 983.7,299.5 987.2,302.3 990.6,299.7 994.1,297.4 997.6,297.5 1001.1,291.1 1004.5,302.3 1008.0,299.1 1011.5,295.9" fill="none" stroke="#2c7f80" stroke-width="1.9" stroke-linejoin="round" stroke-opacity="0.25" />
<polyline points="632.6,120.2 636.1,170.9 639.6,198.2 643.0,214.0 646.5,230.8 650.0,246.8 653.5,255.3 656.9,263.0 660.4,269.4 663.9,280.5 667.4,279.8 670.8,285.4 674.3,284.0 677.8,290.9 681.3,302.6 684.7,302.5 688.2,295.2 691.7,300.4 695.2,305.0 698.6,306.6 702.1,302.4 705.6,308.9 709.1,312.7 712.5,302.8 716.0,309.9 719.5,311.1 723.0,309.1 726.5,313.4 729.9,313.4 733.4,314.9 736.9,312.2 740.4,320.2 743.8,323.3 747.3,319.4 750.8,320.1 754.3,320.3 757.7,318.4 761.2,321.2 764.7,328.7 768.2,320.7 771.6,324.5 775.1,328.5 778.6,330.0 782.1,331.0 785.5,326.5 789.0,336.1 792.5,328.3 796.0,333.3 799.4,339.9 802.9,341.1 806.4,332.5 809.9,335.6 813.4,336.8 816.8,337.1 820.3,338.1 823.8,336.5 827.3,331.0 830.7,339.3 834.2,334.8 837.7,334.4 841.2,339.8 844.6,333.6 848.1,341.9 851.6,342.3 855.1,335.0 858.5,346.7 862.0,342.6 865.5,338.1 869.0,345.1 872.4,345.8 875.9,343.9 879.4,344.3 882.9,339.7 886.3,343.1 889.8,340.3 893.3,344.5 896.8,343.7 900.3,356.0 903.7,347.6 907.2,355.1 910.7,347.6 914.2,358.6 917.6,350.7 921.1,345.0 924.6,355.8 928.1,354.1 931.5,352.4 935.0,350.7 938.5,361.8 942.0,358.7 945.4,361.0 948.9,360.8 952.4,359.8 955.9,367.3 959.3,362.6 962.8,362.5 966.3,359.2 969.8,367.8 973.2,358.1 976.7,367.5 980.2,366.1 983.7,364.6 987.2,370.3 990.6,368.5 994.1,360.2 997.6,368.6 1001.1,349.5 1004.5,365.4 1008.0,367.0 1011.5,370.2" fill="none" stroke="#8a9a5b" stroke-width="1.9" stroke-linejoin="round" stroke-opacity="0.25" />
<polyline points="632.6,120.2 636.1,170.6 639.6,197.4 643.0,213.0 646.5,229.5 650.0,245.2 653.5,255.6 656.9,265.3 660.4,273.6 663.9,288.7 667.4,291.7 670.8,297.9 674.3,293.7 677.8,298.2 681.3,313.1 684.7,313.1 688.2,307.8 691.7,299.1 695.2,313.9 698.6,318.5 702.1,314.2 705.6,322.1 709.1,322.5 712.5,322.5 716.0,324.2 719.5,320.4 723.0,321.7 726.5,328.4 729.9,329.3 733.4,329.6 736.9,330.2 740.4,335.1 743.8,332.3 747.3,338.9 750.8,338.3 754.3,337.1 757.7,339.1 761.2,334.1 764.7,349.4 768.2,341.0 771.6,345.5 775.1,350.8 778.6,345.7 782.1,347.9 785.5,346.7 789.0,354.2 792.5,351.2 796.0,358.3 799.4,364.3 802.9,365.2 806.4,357.0 809.9,362.7 813.4,359.1 816.8,368.8 820.3,365.4 823.8,362.7 827.3,361.4 830.7,364.4 834.2,369.2 837.7,363.8 841.2,372.3 844.6,364.5 848.1,377.3 851.6,371.0 855.1,372.4 858.5,375.2 862.0,376.3 865.5,367.6 869.0,380.7 872.4,381.1 875.9,376.7 879.4,376.8 882.9,373.6 886.3,376.7 889.8,371.4 893.3,374.5 896.8,375.7 900.3,391.1 903.7,389.2 907.2,391.1 910.7,382.3 914.2,394.9 917.6,384.9 921.1,382.5 924.6,393.7 928.1,395.6 931.5,396.5 935.0,394.2 938.5,399.5 942.0,393.5 945.4,402.0 948.9,397.3 952.4,390.5 955.9,404.1 959.3,396.1 962.8,402.1 966.3,395.8 969.8,408.2 973.2,403.0 976.7,401.9 980.2,396.8 983.7,405.1 987.2,407.5 990.6,406.9 994.1,400.5 997.6,406.7 1001.1,381.2 1004.5,400.3 1008.0,403.5 1011.5,408.3" fill="none" stroke="#c5566a" stroke-width="1.9" stroke-linejoin="round" stroke-opacity="0.25" />
<polyline points="632.6,174.5 636.1,186.0 639.6,199.2 643.0,210.3 646.5,218.7 650.0,227.0 653.5,231.7 656.9,237.4 660.4,241.2 663.9,243.6 667.4,245.9 670.8,248.0 674.3,251.7 677.8,254.5 681.3,255.5 684.7,256.3 688.2,258.7 691.7,258.8 695.2,258.9 698.6,260.8 702.1,261.1 705.6,262.1 709.1,262.6 712.5,263.5 716.0,264.4 719.5,264.5 723.0,266.5 726.5,266.8 729.9,267.0 733.4,268.8 736.9,269.5 740.4,270.3 743.8,271.0 747.3,269.6 750.8,271.2 754.3,270.8 757.7,272.1 761.2,273.1 764.7,273.9 768.2,274.1 771.6,274.8 775.1,274.8 778.6,276.6 782.1,276.5 785.5,276.9 789.0,277.9 792.5,278.5 796.0,278.6 799.4,279.2 802.9,280.3 806.4,280.8 809.9,281.7 813.4,281.6 816.8,282.0 820.3,282.9 823.8,282.0 827.3,281.4 830.7,281.5 834.2,282.2 837.7,281.1 841.2,281.1 844.6,281.4 848.1,281.1 851.6,282.6 855.1,282.3 858.5,283.1 862.0,282.6 865.5,282.8 869.0,283.5 872.4,283.6 875.9,284.9 879.4,284.2 882.9,285.6 886.3,283.7 889.8,284.6 893.3,286.5 896.8,287.4 900.3,285.1 903.7,286.7 907.2,286.1 910.7,287.5 914.2,286.8 917.6,287.4 921.1,286.8 924.6,287.6 928.1,286.6 931.5,288.2 935.0,287.1 938.5,288.1 942.0,287.9 945.4,289.4 948.9,289.7 952.4,288.0 955.9,289.6 959.3,289.2 962.8,289.3 966.3,289.9 969.8,289.3 973.2,290.5 976.7,290.5 980.2,289.3 983.7,290.1 987.2,288.9 990.6,288.8 994.1,288.0 997.6,288.5" fill="none" stroke="#0a0acd" stroke-width="2.0" stroke-linejoin="round" />
<polyline points="632.6,174.5 636.1,188.5 639.6,204.7 643.0,217.7 646.5,228.0 650.0,238.3 653.5,243.6 656.9,249.1 660.4,253.1 663.9,256.0 667.4,258.6 670.8,261.6 674.3,264.1 677.8,267.3 681.3,268.8 684.7,270.1 688.2,270.5 691.7,271.6 695.2,272.7 698.6,273.8 702.1,274.6 705.6,275.4 709.1,278.4 712.5,276.5 716.0,279.1 719.5,278.1 723.0,278.5 726.5,278.2 729.9,278.8 733.4,279.4 736.9,279.6 740.4,279.6 743.8,279.2 747.3,280.9 750.8,283.0 754.3,282.4 757.7,282.4 761.2,281.0 764.7,284.1 768.2,284.3 771.6,284.2 775.1,285.1 778.6,286.9 782.1,286.2 785.5,288.3 789.0,288.4 792.5,288.1 796.0,290.5 799.4,290.6 802.9,290.0 806.4,292.0 809.9,293.2 813.4,293.7 816.8,293.5 820.3,294.6 823.8,293.6 827.3,293.7 830.7,293.1 834.2,291.1 837.7,291.6 841.2,291.4 844.6,291.1 848.1,292.0 851.6,292.5 855.1,291.2 858.5,291.6 862.0,292.9 865.5,292.1 869.0,291.9 872.4,292.7 875.9,292.9 879.4,294.2 882.9,293.6 886.3,294.9 889.8,293.2 893.3,294.2 896.8,293.4 900.3,294.9 903.7,294.1 907.2,295.8 910.7,295.2 914.2,294.8 917.6,295.0 921.1,295.4 924.6,296.6 928.1,294.8 931.5,295.4 935.0,295.2 938.5,295.4 942.0,296.5 945.4,296.1 948.9,294.9 952.4,297.3 955.9,296.6 959.3,297.4 962.8,296.1 966.3,297.2 969.8,298.2 973.2,298.1 976.7,298.7 980.2,299.5 983.7,299.6 987.2,298.3 990.6,298.4 994.1,297.5 997.6,298.0" fill="none" stroke="#2c7f80" stroke-width="2.0" stroke-linejoin="round" />
<polyline points="632.6,174.5 636.1,190.5 639.6,209.2 643.0,224.4 646.5,235.9 650.0,247.4 653.5,255.6 656.9,263.5 660.4,269.5 663.9,274.7 667.4,279.4 670.8,284.5 674.3,288.8 677.8,293.3 681.3,297.1 684.7,299.0 688.2,299.9 691.7,301.8 695.2,304.4 698.6,304.9 702.1,307.1 705.6,309.4 709.1,311.3 712.5,311.3 716.0,311.0 719.5,310.7 723.0,311.1 726.5,312.4 729.9,311.0 733.4,313.1 736.9,315.1 740.4,315.6 743.8,318.9 747.3,318.9 750.8,321.5 754.3,322.8 757.7,323.4 761.2,322.2 764.7,323.7 768.2,325.7 771.6,325.7 775.1,325.9 778.6,328.3 782.1,328.6 785.5,328.5 789.0,329.5 792.5,331.5 796.0,331.7 799.4,334.0 802.9,335.3 806.4,335.8 809.9,337.9 813.4,337.3 816.8,339.7 820.3,339.1 823.8,338.1 827.3,336.7 830.7,335.9 834.2,335.2 837.7,337.5 841.2,338.3 844.6,338.8 848.1,339.2 851.6,339.8 855.1,343.4 858.5,342.3 862.0,342.8 865.5,342.9 869.0,343.0 872.4,344.0 875.9,344.6 879.4,343.1 882.9,343.3 886.3,344.0 889.8,343.8 893.3,344.2 896.8,346.2 900.3,346.4 903.7,348.8 907.2,349.8 910.7,350.1 914.2,349.3 917.6,350.7 921.1,351.5 924.6,352.3 928.1,352.4 931.5,353.2 935.0,355.4 938.5,355.5 942.0,356.7 945.4,357.0 948.9,358.2 952.4,360.5 955.9,359.5 959.3,361.1 962.8,363.2 966.3,362.0 969.8,363.4 973.2,364.0 976.7,365.0 980.2,365.7 983.7,365.7 987.2,366.1 990.6,365.0 994.1,364.1 997.6,363.8" fill="none" stroke="#8a9a5b" stroke-width="2.0" stroke-linejoin="round" />
<polyline points="632.6,174.5 636.1,190.2 639.6,208.6 643.0,223.2 646.5,234.8 650.0,246.4 653.5,255.8 656.9,265.6 660.4,273.5 663.9,280.9 667.4,287.0 670.8,292.4 674.3,297.2 677.8,301.9 681.3,305.9 684.7,307.4 688.2,309.3 691.7,311.1 695.2,315.0 698.6,316.3 702.1,318.2 705.6,322.1 709.1,324.5 712.5,324.4 716.0,325.3 719.5,325.2 723.0,324.4 726.5,325.0 729.9,326.1 733.4,328.6 736.9,328.1 740.4,331.4 743.8,334.9 747.3,335.9 750.8,337.7 754.3,339.4 757.7,342.0 761.2,340.8 764.7,342.9 768.2,344.7 771.6,345.4 775.1,347.1 778.6,348.3 782.1,348.7 785.5,351.7 789.0,350.9 792.5,353.4 796.0,355.3 799.4,357.4 802.9,359.1 806.4,361.3 809.9,363.4 813.4,366.0 816.8,367.0 820.3,367.0 823.8,366.5 827.3,364.8 830.7,364.1 834.2,362.7 837.7,366.7 841.2,366.7 844.6,368.4 848.1,370.5 851.6,371.4 855.1,374.7 858.5,374.5 862.0,375.4 865.5,375.7 869.0,376.8 872.4,376.8 875.9,376.8 879.4,377.1 882.9,377.0 886.3,377.7 889.8,376.2 893.3,379.8 896.8,381.4 900.3,383.1 903.7,385.8 907.2,385.6 910.7,386.4 914.2,385.8 917.6,387.0 921.1,388.6 924.6,390.8 928.1,391.4 931.5,392.5 935.0,394.0 938.5,396.0 942.0,397.0 945.4,397.9 948.9,398.9 952.4,401.0 955.9,400.0 959.3,402.4 962.8,402.7 966.3,403.5 969.8,403.6 973.2,402.7 976.7,405.0 980.2,405.1 983.7,404.6 987.2,403.3 990.6,401.1 994.1,401.6 997.6,400.6" fill="none" stroke="#c5566a" stroke-width="2.0" stroke-linejoin="round" />
</g>
<rect x="613.5" y="106.2" width="417.70000000000005" height="320.8" fill="none" stroke="#cccccc" stroke-width="1.1"/>
<rect x="806.3" y="110.5" width="219.3" height="68.5" rx="2.5" fill="#fff" fill-opacity="0.85" stroke="#d0d0d0" stroke-width="0.9"/>
<line x1="810" y1="120.6" x2="833" y2="120.6" stroke="#0a0acd" stroke-width="2"/>
<text x="841.20" y="124.50" font-size="10.75" font-family="'DejaVu Sans','Liberation Sans',sans-serif" fill="#262626">M-RoPE</text>
<line x1="810" y1="136.7" x2="833" y2="136.7" stroke="#2c7f80" stroke-width="2"/>
<text x="841.20" y="140.57" font-size="10.75" font-family="'DejaVu Sans','Liberation Sans',sans-serif" fill="#262626">MM-RoPE w/o distributed design</text>
<line x1="810" y1="152.7" x2="833" y2="152.7" stroke="#8a9a5b" stroke-width="2"/>
<text x="841.20" y="156.64" font-size="10.75" font-family="'DejaVu Sans','Liberation Sans',sans-serif" fill="#262626">MM-RoPE w/o scaled 3D positions</text>
<line x1="810" y1="168.8" x2="833" y2="168.8" stroke="#c5566a" stroke-width="2"/>
<text x="841.20" y="172.71" font-size="10.75" font-family="'DejaVu Sans','Liberation Sans',sans-serif" fill="#262626">MM-RoPE</text>
<text x="822.40" y="101.30" font-size="16.3" font-family="'DejaVu Sans','Liberation Sans',sans-serif" fill="#262626" font-weight="bold" text-anchor="middle">Effectiveness of MM-RoPE</text>
<text x="822.40" y="454.90" font-size="13.4" font-family="'DejaVu Sans','Liberation Sans',sans-serif" fill="#262626" text-anchor="middle">Valid Iterations</text>
<text x="576.00" y="266.50" font-size="13.4" font-family="'DejaVu Sans','Liberation Sans',sans-serif" fill="#262626" text-anchor="middle" transform="rotate(-90 576.00 266.50)">C-Loss Value</text>
</g>
<g id="chartC">
<rect x="1085.5" y="110.2" width="417.0" height="311.0" fill="#fff"/>
<line x1="1104.2" y1="110.2" x2="1104.2" y2="421.2" stroke="#dedede" stroke-width="0.9" stroke-dasharray="3.3 1.5"/>
<line x1="1104.2" y1="421.2" x2="1104.2" y2="425.2" stroke="#000" stroke-width="0.9"/>
<text x="1104.20" y="435.30" font-size="9.0" font-family="'DejaVu Sans','Liberation Sans',sans-serif" fill="#000" text-anchor="middle">4</text>
<line x1="1151.6" y1="110.2" x2="1151.6" y2="421.2" stroke="#dedede" stroke-width="0.9" stroke-dasharray="3.3 1.5"/>
<line x1="1151.6" y1="421.2" x2="1151.6" y2="425.2" stroke="#000" stroke-width="0.9"/>
<text x="1151.60" y="435.30" font-size="9.0" font-family="'DejaVu Sans','Liberation Sans',sans-serif" fill="#000" text-anchor="middle">6</text>
<line x1="1199.0" y1="110.2" x2="1199.0" y2="421.2" stroke="#dedede" stroke-width="0.9" stroke-dasharray="3.3 1.5"/>
<line x1="1199.0" y1="421.2" x2="1199.0" y2="425.2" stroke="#000" stroke-width="0.9"/>
<text x="1199.00" y="435.30" font-size="9.0" font-family="'DejaVu Sans','Liberation Sans',sans-serif" fill="#000" text-anchor="middle">8</text>
<line x1="1246.4" y1="110.2" x2="1246.4" y2="421.2" stroke="#dedede" stroke-width="0.9" stroke-dasharray="3.3 1.5"/>
<line x1="1246.4" y1="421.2" x2="1246.4" y2="425.2" stroke="#000" stroke-width="0.9"/>
<text x="1246.40" y="435.30" font-size="9.0" font-family="'DejaVu Sans','Liberation Sans',sans-serif" fill="#000" text-anchor="middle">10</text>
<line x1="1293.8" y1="110.2" x2="1293.8" y2="421.2" stroke="#dedede" stroke-width="0.9" stroke-dasharray="3.3 1.5"/>
<line x1="1293.8" y1="421.2" x2="1293.8" y2="425.2" stroke="#000" stroke-width="0.9"/>
<text x="1293.80" y="435.30" font-size="9.0" font-family="'DejaVu Sans','Liberation Sans',sans-serif" fill="#000" text-anchor="middle">12</text>
<line x1="1341.2" y1="110.2" x2="1341.2" y2="421.2" stroke="#dedede" stroke-width="0.9" stroke-dasharray="3.3 1.5"/>
<line x1="1341.2" y1="421.2" x2="1341.2" y2="425.2" stroke="#000" stroke-width="0.9"/>
<text x="1341.20" y="435.30" font-size="9.0" font-family="'DejaVu Sans','Liberation Sans',sans-serif" fill="#000" text-anchor="middle">14</text>
<line x1="1388.6" y1="110.2" x2="1388.6" y2="421.2" stroke="#dedede" stroke-width="0.9" stroke-dasharray="3.3 1.5"/>
<line x1="1388.6" y1="421.2" x2="1388.6" y2="425.2" stroke="#000" stroke-width="0.9"/>
<text x="1388.60" y="435.30" font-size="9.0" font-family="'DejaVu Sans','Liberation Sans',sans-serif" fill="#000" text-anchor="middle">16</text>
<line x1="1436.0" y1="110.2" x2="1436.0" y2="421.2" stroke="#dedede" stroke-width="0.9" stroke-dasharray="3.3 1.5"/>
<line x1="1436.0" y1="421.2" x2="1436.0" y2="425.2" stroke="#000" stroke-width="0.9"/>
<text x="1436.00" y="435.30" font-size="9.0" font-family="'DejaVu Sans','Liberation Sans',sans-serif" fill="#000" text-anchor="middle">18</text>
<line x1="1483.4" y1="110.2" x2="1483.4" y2="421.2" stroke="#dedede" stroke-width="0.9" stroke-dasharray="3.3 1.5"/>
<line x1="1483.4" y1="421.2" x2="1483.4" y2="425.2" stroke="#000" stroke-width="0.9"/>
<text x="1483.40" y="435.30" font-size="9.0" font-family="'DejaVu Sans','Liberation Sans',sans-serif" fill="#000" text-anchor="middle">20</text>
<line x1="1085.5" y1="395.5" x2="1502.5" y2="395.5" stroke="#dedede" stroke-width="0.9" stroke-dasharray="3.3 1.5"/>
<line x1="1081.5" y1="395.5" x2="1085.5" y2="395.5" stroke="#000" stroke-width="0.9"/>
<text x="1078.40" y="398.90" font-size="9.0" font-family="'DejaVu Sans','Liberation Sans',sans-serif" fill="#000" text-anchor="end">0.53</text>
<line x1="1085.5" y1="357.3" x2="1502.5" y2="357.3" stroke="#dedede" stroke-width="0.9" stroke-dasharray="3.3 1.5"/>
<line x1="1081.5" y1="357.3" x2="1085.5" y2="357.3" stroke="#000" stroke-width="0.9"/>
<text x="1078.40" y="360.70" font-size="9.0" font-family="'DejaVu Sans','Liberation Sans',sans-serif" fill="#000" text-anchor="end">0.54</text>
<line x1="1085.5" y1="319.1" x2="1502.5" y2="319.1" stroke="#dedede" stroke-width="0.9" stroke-dasharray="3.3 1.5"/>
<line x1="1081.5" y1="319.1" x2="1085.5" y2="319.1" stroke="#000" stroke-width="0.9"/>
<text x="1078.40" y="322.50" font-size="9.0" font-family="'DejaVu Sans','Liberation Sans',sans-serif" fill="#000" text-anchor="end">0.55</text>
<line x1="1085.5" y1="280.9" x2="1502.5" y2="280.9" stroke="#dedede" stroke-width="0.9" stroke-dasharray="3.3 1.5"/>
<line x1="1081.5" y1="280.9" x2="1085.5" y2="280.9" stroke="#000" stroke-width="0.9"/>
<text x="1078.40" y="284.30" font-size="9.0" font-family="'DejaVu Sans','Liberation Sans',sans-serif" fill="#000" text-anchor="end">0.56</text>
<line x1="1085.5" y1="242.7" x2="1502.5" y2="242.7" stroke="#dedede" stroke-width="0.9" stroke-dasharray="3.3 1.5"/>
<line x1="1081.5" y1="242.7" x2="1085.5" y2="242.7" stroke="#000" stroke-width="0.9"/>
<text x="1078.40" y="246.10" font-size="9.0" font-family="'DejaVu Sans','Liberation Sans',sans-serif" fill="#000" text-anchor="end">0.57</text>
<line x1="1085.5" y1="204.5" x2="1502.5" y2="204.5" stroke="#dedede" stroke-width="0.9" stroke-dasharray="3.3 1.5"/>
<line x1="1081.5" y1="204.5" x2="1085.5" y2="204.5" stroke="#000" stroke-width="0.9"/>
<text x="1078.40" y="207.90" font-size="9.0" font-family="'DejaVu Sans','Liberation Sans',sans-serif" fill="#000" text-anchor="end">0.58</text>
<line x1="1085.5" y1="166.3" x2="1502.5" y2="166.3" stroke="#dedede" stroke-width="0.9" stroke-dasharray="3.3 1.5"/>
<line x1="1081.5" y1="166.3" x2="1085.5" y2="166.3" stroke="#000" stroke-width="0.9"/>
<text x="1078.40" y="169.70" font-size="9.0" font-family="'DejaVu Sans','Liberation Sans',sans-serif" fill="#000" text-anchor="end">0.59</text>
<line x1="1085.5" y1="128.1" x2="1502.5" y2="128.1" stroke="#dedede" stroke-width="0.9" stroke-dasharray="3.3 1.5"/>
<line x1="1081.5" y1="128.1" x2="1085.5" y2="128.1" stroke="#000" stroke-width="0.9"/>
<text x="1078.40" y="131.50" font-size="9.0" font-family="'DejaVu Sans','Liberation Sans',sans-serif" fill="#000" text-anchor="end">0.60</text>
<rect x="1317.5" y="109.7" width="71.1" height="308.2" fill="#e9c8cf" fill-opacity="0.62"/>
<polyline points="1104.2,407.0 1139.8,288.5 1175.3,250.3 1210.9,208.3 1246.4,177.8 1282.0,166.3 1317.5,139.6 1353.0,139.6 1388.6,124.3 1483.4,170.1" fill="none" stroke="#c5566a" stroke-width="3.0" stroke-linejoin="round" />
<circle cx="1104.2" cy="407.0" r="3" fill="#c5566a"/>
<circle cx="1139.8" cy="288.5" r="3" fill="#c5566a"/>
<circle cx="1175.3" cy="250.3" r="3" fill="#c5566a"/>
<circle cx="1210.9" cy="208.3" r="3" fill="#c5566a"/>
<circle cx="1246.4" cy="177.8" r="3" fill="#c5566a"/>
<circle cx="1282.0" cy="166.3" r="3" fill="#c5566a"/>
<circle cx="1317.5" cy="139.6" r="3" fill="#c5566a"/>
<circle cx="1353.0" cy="139.6" r="3" fill="#c5566a"/>
<circle cx="1388.6" cy="124.3" r="3" fill="#c5566a"/>
<circle cx="1483.4" cy="170.1" r="3" fill="#c5566a"/>
<rect x="1085.5" y="110.2" width="417.0" height="311.0" fill="none" stroke="#111" stroke-width="1.0"/>
<rect x="1091.4" y="115.7" width="131.7" height="21.9" rx="2.5" fill="#fff" fill-opacity="0.8" stroke="#d4d4d4" stroke-width="0.9"/>
<line x1="1095.2" y1="126" x2="1122" y2="126" stroke="#c5566a" stroke-width="3"/><circle cx="1108.6" cy="126" r="3" fill="#c5566a"/>
<text x="1130.30" y="130.40" font-size="12.15" font-family="'DejaVu Sans','Liberation Sans',sans-serif" fill="#000">GenEval Score</text>
<text x="1293.70" y="105.00" font-size="16.74" font-family="'DejaVu Sans','Liberation Sans',sans-serif" fill="#000" font-weight="bold" text-anchor="middle">Impact of CFG Scale</text>
<text x="1293.70" y="454.00" font-size="16.9" font-family="'DejaVu Sans','Liberation Sans',sans-serif" fill="#000" text-anchor="middle">CFG Scale</text>
<text x="1050.80" y="265.50" font-size="13.9" font-family="'DejaVu Sans','Liberation Sans',sans-serif" fill="#000" text-anchor="middle" transform="rotate(-90 1050.80 265.50)">GenEval Score</text>
<text x="1321.00" y="389.20" font-size="19" font-family="'Liberation Sans',sans-serif" fill="#808080" font-weight="bold" textLength="62.80" lengthAdjust="spacingAndGlyphs">Optimal</text>
<text x="1321.00" y="408.80" font-size="19" font-family="'Liberation Sans',sans-serif" fill="#808080" font-weight="bold" textLength="46.00" lengthAdjust="spacingAndGlyphs">range</text>
</g>
<g id="chartV">
<rect x="112.6" y="623.6" width="394.20000000000005" height="293.6" fill="#fff"/>
<line x1="130.1" y1="623.6" x2="130.1" y2="917.2" stroke="#dcdcdc" stroke-width="0.9" stroke-dasharray="3.3 1.5"/>
<line x1="130.1" y1="917.2" x2="130.1" y2="921.2" stroke="#000" stroke-width="0.9"/>
<text x="130.10" y="930.60" font-size="8.8" font-family="'DejaVu Sans','Liberation Sans',sans-serif" fill="#000" text-anchor="middle">0.0</text>
<line x1="209.7" y1="623.6" x2="209.7" y2="917.2" stroke="#dcdcdc" stroke-width="0.9" stroke-dasharray="3.3 1.5"/>
<line x1="209.7" y1="917.2" x2="209.7" y2="921.2" stroke="#000" stroke-width="0.9"/>
<text x="209.70" y="930.60" font-size="8.8" font-family="'DejaVu Sans','Liberation Sans',sans-serif" fill="#000" text-anchor="middle">0.2</text>
<line x1="289.3" y1="623.6" x2="289.3" y2="917.2" stroke="#dcdcdc" stroke-width="0.9" stroke-dasharray="3.3 1.5"/>
<line x1="289.3" y1="917.2" x2="289.3" y2="921.2" stroke="#000" stroke-width="0.9"/>
<text x="289.30" y="930.60" font-size="8.8" font-family="'DejaVu Sans','Liberation Sans',sans-serif" fill="#000" text-anchor="middle">0.4</text>
<line x1="368.9" y1="623.6" x2="368.9" y2="917.2" stroke="#dcdcdc" stroke-width="0.9" stroke-dasharray="3.3 1.5"/>
<line x1="368.9" y1="917.2" x2="368.9" y2="921.2" stroke="#000" stroke-width="0.9"/>
<text x="368.90" y="930.60" font-size="8.8" font-family="'DejaVu Sans','Liberation Sans',sans-serif" fill="#000" text-anchor="middle">0.6</text>
<line x1="448.5" y1="623.6" x2="448.5" y2="917.2" stroke="#dcdcdc" stroke-width="0.9" stroke-dasharray="3.3 1.5"/>
<line x1="448.5" y1="917.2" x2="448.5" y2="921.2" stroke="#000" stroke-width="0.9"/>
<text x="448.50" y="930.60" font-size="8.8" font-family="'DejaVu Sans','Liberation Sans',sans-serif" fill="#000" text-anchor="middle">0.8</text>
<line x1="112.6" y1="875.3" x2="506.8" y2="875.3" stroke="#dcdcdc" stroke-width="0.9" stroke-dasharray="3.3 1.5"/>
<line x1="108.6" y1="875.3" x2="112.6" y2="875.3" stroke="#000" stroke-width="0.9"/>
<text x="105.40" y="878.60" font-size="8.8" font-family="'DejaVu Sans','Liberation Sans',sans-serif" fill="#c5566a" text-anchor="end">51</text>
<line x1="112.6" y1="816.2" x2="506.8" y2="816.2" stroke="#dcdcdc" stroke-width="0.9" stroke-dasharray="3.3 1.5"/>
<line x1="108.6" y1="816.2" x2="112.6" y2="816.2" stroke="#000" stroke-width="0.9"/>
<text x="105.40" y="819.45" font-size="8.8" font-family="'DejaVu Sans','Liberation Sans',sans-serif" fill="#c5566a" text-anchor="end">52</text>
<line x1="112.6" y1="757.0" x2="506.8" y2="757.0" stroke="#dcdcdc" stroke-width="0.9" stroke-dasharray="3.3 1.5"/>
<line x1="108.6" y1="757.0" x2="112.6" y2="757.0" stroke="#000" stroke-width="0.9"/>
<text x="105.40" y="760.30" font-size="8.8" font-family="'DejaVu Sans','Liberation Sans',sans-serif" fill="#c5566a" text-anchor="end">53</text>
<line x1="112.6" y1="697.9" x2="506.8" y2="697.9" stroke="#dcdcdc" stroke-width="0.9" stroke-dasharray="3.3 1.5"/>
<line x1="108.6" y1="697.9" x2="112.6" y2="697.9" stroke="#000" stroke-width="0.9"/>
<text x="105.40" y="701.15" font-size="8.8" font-family="'DejaVu Sans','Liberation Sans',sans-serif" fill="#c5566a" text-anchor="end">54</text>
<line x1="112.6" y1="638.7" x2="506.8" y2="638.7" stroke="#dcdcdc" stroke-width="0.9" stroke-dasharray="3.3 1.5"/>
<line x1="108.6" y1="638.7" x2="112.6" y2="638.7" stroke="#000" stroke-width="0.9"/>
<text x="105.40" y="642.00" font-size="8.8" font-family="'DejaVu Sans','Liberation Sans',sans-serif" fill="#c5566a" text-anchor="end">55</text>
<line x1="506.8" y1="871.2" x2="510.8" y2="871.2" stroke="#000" stroke-width="0.9"/>
<text x="512.40" y="874.50" font-size="8.8" font-family="'DejaVu Sans','Liberation Sans',sans-serif" fill="#8a9a5b">20</text>
<line x1="506.8" y1="819.3" x2="510.8" y2="819.3" stroke="#000" stroke-width="0.9"/>
<text x="512.40" y="822.60" font-size="8.8" font-family="'DejaVu Sans','Liberation Sans',sans-serif" fill="#8a9a5b">30</text>
<line x1="506.8" y1="767.4" x2="510.8" y2="767.4" stroke="#000" stroke-width="0.9"/>
<text x="512.40" y="770.70" font-size="8.8" font-family="'DejaVu Sans','Liberation Sans',sans-serif" fill="#8a9a5b">40</text>
<line x1="506.8" y1="715.5" x2="510.8" y2="715.5" stroke="#000" stroke-width="0.9"/>
<text x="512.40" y="718.80" font-size="8.8" font-family="'DejaVu Sans','Liberation Sans',sans-serif" fill="#8a9a5b">50</text>
<line x1="506.8" y1="663.6" x2="510.8" y2="663.6" stroke="#000" stroke-width="0.9"/>
<text x="512.40" y="666.90" font-size="8.8" font-family="'DejaVu Sans','Liberation Sans',sans-serif" fill="#8a9a5b">60</text>
<polyline points="130.1,903.7 169.9,749.3 249.5,636.3 329.1,664.7 408.7,663.5 488.3,777.7" fill="none" stroke="#c5566a" stroke-width="3.0" stroke-linejoin="round" />
<circle cx="130.1" cy="903.7" r="3" fill="#c5566a"/>
<circle cx="169.9" cy="749.3" r="3" fill="#c5566a"/>
<circle cx="249.5" cy="636.3" r="3" fill="#c5566a"/>
<circle cx="329.1" cy="664.7" r="3" fill="#c5566a"/>
<circle cx="408.7" cy="663.5" r="3" fill="#c5566a"/>
<circle cx="488.3" cy="777.7" r="3" fill="#c5566a"/>
<polyline points="130.1,793.4 169.9,867.6 249.5,904.1 329.1,886.8 408.7,855.6 488.3,636.6" fill="none" stroke="#8a9a5b" stroke-width="3.0" stroke-linejoin="round" />
<circle cx="130.1" cy="793.4" r="3" fill="#8a9a5b"/>
<circle cx="169.9" cy="867.6" r="3" fill="#8a9a5b"/>
<circle cx="249.5" cy="904.1" r="3" fill="#8a9a5b"/>
<circle cx="329.1" cy="886.8" r="3" fill="#8a9a5b"/>
<circle cx="408.7" cy="855.6" r="3" fill="#8a9a5b"/>
<circle cx="488.3" cy="636.6" r="3" fill="#8a9a5b"/>
<rect x="114.3" y="668.1" width="135.5" height="248.5" fill="#e6e6e6" fill-opacity="0.52"/>
<rect x="409.3" y="627.0" width="96.5" height="289.6" fill="#e6e6e6" fill-opacity="0.52"/>
<rect x="112.6" y="623.6" width="394.20000000000005" height="293.6" fill="none" stroke="#111" stroke-width="1.0"/>
<rect x="117.3" y="628.7" width="138.1" height="37.4" rx="2.5" fill="#fff" fill-opacity="0.8" stroke="#d4d4d4" stroke-width="0.9"/>
<line x1="121.2" y1="638.1" x2="146.9" y2="638.1" stroke="#c5566a" stroke-width="3"/><circle cx="134" cy="638.1" r="3" fill="#c5566a"/>
<text x="154.90" y="642.30" font-size="11.4" font-family="'DejaVu Sans','Liberation Sans',sans-serif" fill="#000">Imaging Quality</text>
<line x1="121.2" y1="654.9" x2="146.9" y2="654.9" stroke="#8a9a5b" stroke-width="3"/><circle cx="134" cy="654.9" r="3" fill="#8a9a5b"/>
<text x="154.90" y="659.10" font-size="11.4" font-family="'DejaVu Sans','Liberation Sans',sans-serif" fill="#000">Dynamic Degree</text>
<text x="164.90" y="618.20" font-size="15.93" font-family="'DejaVu Sans','Liberation Sans',sans-serif" fill="#000" font-weight="bold">VBench Metrics with Varying</text>
<text x="428.60" y="618.20" font-size="15.9" font-family="'DejaVu Sans','Liberation Sans',sans-serif" fill="#000" font-style="italic">ρ</text>
<text x="438.90" y="621.60" font-size="11.1" font-family="'DejaVu Sans','Liberation Sans',sans-serif" fill="#000" font-style="italic">inf</text>
<text x="296.40" y="947.90" font-size="14.6" font-family="'DejaVu Sans','Liberation Sans',sans-serif" fill="#000" font-style="italic">ρ</text>
<text x="306.60" y="950.20" font-size="10.2" font-family="'DejaVu Sans','Liberation Sans',sans-serif" fill="#000" font-style="italic">inf</text>
<text x="87.00" y="770.50" font-size="13.25" font-family="'DejaVu Sans','Liberation Sans',sans-serif" fill="#c5566a" font-weight="bold" text-anchor="middle" transform="rotate(-90 87.00 770.50)">Imaging Quality</text>
<text x="536.50" y="770.00" font-size="13.25" font-family="'DejaVu Sans','Liberation Sans',sans-serif" fill="#8a9a5b" font-weight="bold" text-anchor="middle" transform="rotate(-90 536.50 770.00)">Dynamic Degree</text>
<text x="118.40" y="893.80" font-size="17" font-family="'Liberation Sans',sans-serif" fill="#808080" font-weight="bold" textLength="122.90" lengthAdjust="spacingAndGlyphs">Degraded motion</text>
<text x="118.40" y="910.90" font-size="17" font-family="'Liberation Sans',sans-serif" fill="#808080" font-weight="bold" textLength="123.70" lengthAdjust="spacingAndGlyphs">and frame quality</text>
<text x="409.80" y="893.80" font-size="17" font-family="'Liberation Sans',sans-serif" fill="#808080" font-weight="bold" textLength="96.00" lengthAdjust="spacingAndGlyphs">Discontinuous</text>
<text x="409.80" y="910.90" font-size="17" font-family="'Liberation Sans',sans-serif" fill="#808080" font-weight="bold" textLength="45.00" lengthAdjust="spacingAndGlyphs">videos</text>
</g>
<text x="328.90" y="483.30" font-size="27" font-family="'Liberation Sans',sans-serif" fill="#000" font-weight="bold" text-anchor="middle" textLength="31.70" lengthAdjust="spacingAndGlyphs">(a)</text>
<text x="820.30" y="483.30" font-size="27" font-family="'Liberation Sans',sans-serif" fill="#000" font-weight="bold" text-anchor="middle" textLength="34.20" lengthAdjust="spacingAndGlyphs">(b)</text>
<text x="1292.80" y="482.00" font-size="27" font-family="'Liberation Sans',sans-serif" fill="#000" font-weight="bold" text-anchor="middle" textLength="30.80" lengthAdjust="spacingAndGlyphs">(c)</text>
<text x="308.40" y="976.00" font-size="23.5" font-family="'Liberation Sans',sans-serif" fill="#000" font-weight="bold" text-anchor="middle" textLength="29.00" lengthAdjust="spacingAndGlyphs">(a)</text>
<text x="1060.80" y="975.80" font-size="23.5" font-family="'Liberation Sans',sans-serif" fill="#000" text-anchor="middle" textLength="27.60" lengthAdjust="spacingAndGlyphs" stroke="#000" stroke-width="0.8">(b)</text>
<text x="71.40" y="518.40" font-size="22.9" font-family="'Liberation Sans',sans-serif" fill="#000" font-weight="bold" textLength="96.20" lengthAdjust="spacingAndGlyphs" stroke="#000" stroke-width="0.55">Figure 7</text>
<text x="190.50" y="518.40" font-family="'Liberation Serif',serif" font-size="25.5" fill="#000" textLength="33.40" lengthAdjust="spacingAndGlyphs"><tspan font-size="30">(</tspan>a<tspan font-size="30">)</tspan></text>
<text x="239.50" y="518.40" font-size="22.9" font-family="'Liberation Sans',sans-serif" fill="#000" font-weight="bold" textLength="456.90" lengthAdjust="spacingAndGlyphs" stroke="#000" stroke-width="0.55">Effectiveness of temporal-tube masks</text>
<text x="711.10" y="518.40" font-size="25.5" font-family="'Liberation Serif',serif" fill="#000" textLength="747.40" lengthAdjust="spacingAndGlyphs" word-spacing="5">during AR-DF training (on videos) using the 0.5B model;</text>
<text x="1475.40" y="518.40" font-family="'Liberation Serif',serif" font-size="25.5" fill="#000" textLength="35.80" lengthAdjust="spacingAndGlyphs"><tspan font-size="30">(</tspan>b<tspan font-size="30">)</tspan></text>
<text x="71.40" y="552.30" font-size="22.9" font-family="'Liberation Sans',sans-serif" fill="#000" font-weight="bold" textLength="311.40" lengthAdjust="spacingAndGlyphs" stroke="#000" stroke-width="0.55">Effectiveness of MM-RoPE</text>
<text x="384.50" y="552.30" font-size="25.5" font-family="'Liberation Serif',serif" fill="#000">;</text>
<text x="404.30" y="552.30" font-family="'Liberation Serif',serif" font-size="25.5" fill="#000" textLength="31.20" lengthAdjust="spacingAndGlyphs"><tspan font-size="30">(</tspan>c<tspan font-size="30">)</tspan></text>
<text x="446.90" y="552.30" font-size="22.9" font-family="'Liberation Sans',sans-serif" fill="#000" font-weight="bold" textLength="368.30" lengthAdjust="spacingAndGlyphs" stroke="#000" stroke-width="0.55">Sensitivity analysis of CFG scale</text>
<text x="825.70" y="552.30" font-size="25.5" font-family="'Liberation Serif',serif" fill="#000" textLength="348.90" lengthAdjust="spacingAndGlyphs">on GenEval using 1B model.</text>
<text x="71.30" y="1011.70" font-size="22.9" font-family="'Liberation Sans',sans-serif" fill="#000" font-weight="bold" textLength="91.70" lengthAdjust="spacingAndGlyphs" stroke="#000" stroke-width="0.55">Figure 8</text>
<text x="181.00" y="1011.70" font-family="'Liberation Serif',serif" font-size="25.5" fill="#000" textLength="32.60" lengthAdjust="spacingAndGlyphs"><tspan font-size="30">(</tspan>a<tspan font-size="30">)</tspan></text>
<text x="224.90" y="1011.70" font-size="22.9" font-family="'Liberation Sans',sans-serif" fill="#000" font-weight="bold" textLength="730.00" lengthAdjust="spacingAndGlyphs" stroke="#000" stroke-width="0.55">Selected VBench metrics with varying inference-time mask ratio</text>
<text x="963.20" y="1011.70" font-size="26" font-family="'Liberation Serif',serif" fill="#000" font-style="italic" textLength="14.80" lengthAdjust="spacingAndGlyphs">ρ</text>
<text x="979.80" y="1015.10" font-size="17.5" font-family="'Liberation Serif',serif" fill="#000" font-style="italic" textLength="31.20" lengthAdjust="spacingAndGlyphs">inf</text>
<text x="1015.80" y="1011.70" font-size="25.5" font-family="'Liberation Serif',serif" fill="#000">;</text>
<text x="1033.20" y="1011.70" font-family="'Liberation Serif',serif" font-size="25.5" fill="#000" textLength="33.90" lengthAdjust="spacingAndGlyphs"><tspan font-size="30">(</tspan>b<tspan font-size="30">)</tspan></text>
<text x="1078.50" y="1011.70" font-size="22.9" font-family="'Liberation Sans',sans-serif" fill="#000" font-weight="bold" textLength="430.90" lengthAdjust="spacingAndGlyphs" stroke="#000" stroke-width="0.55">Text-to-video visualization comparing</text>
<text x="71.30" y="1046.20" font-size="22.9" font-family="'Liberation Sans',sans-serif" fill="#000" font-weight="bold" textLength="395.30" lengthAdjust="spacingAndGlyphs" stroke="#000" stroke-width="0.55">the effect of inference-time masks</text>
<text x="470.30" y="1046.20" font-size="25.5" font-family="'Liberation Serif',serif" fill="#000">.</text>
<text x="491.8" y="1046.2" font-family="'Liberation Serif',serif" font-size="25.5" fill="#000" textLength="62.8" lengthAdjust="spacingAndGlyphs"><tspan font-size="30">(</tspan>w/o:</text>
<text x="570.70" y="1046.20" font-size="26" font-family="'Liberation Serif',serif" fill="#000" font-style="italic" textLength="14.80" lengthAdjust="spacingAndGlyphs">ρ</text>
<text x="587.30" y="1049.60" font-size="17.5" font-family="'Liberation Serif',serif" fill="#000" font-style="italic" textLength="31.20" lengthAdjust="spacingAndGlyphs">inf</text>
<text x="630.20" y="1046.20" font-size="25.5" font-family="'Liberation Serif',serif" fill="#000" textLength="19.40" lengthAdjust="spacingAndGlyphs">=</text>
<text x="658.70" y="1046.20" font-size="25.5" font-family="'Liberation Serif',serif" fill="#000" textLength="40.30" lengthAdjust="spacingAndGlyphs">0.0,</text>
<text x="712.40" y="1046.20" font-size="25.5" font-family="'Liberation Serif',serif" fill="#000" textLength="38.60" lengthAdjust="spacingAndGlyphs">w/:</text>
<text x="767.80" y="1046.20" font-size="26" font-family="'Liberation Serif',serif" fill="#000" font-style="italic" textLength="14.80" lengthAdjust="spacingAndGlyphs">ρ</text>
<text x="784.40" y="1049.60" font-size="17.5" font-family="'Liberation Serif',serif" fill="#000" font-style="italic" textLength="31.20" lengthAdjust="spacingAndGlyphs">inf</text>
<text x="826.60" y="1046.20" font-size="25.5" font-family="'Liberation Serif',serif" fill="#000" textLength="19.40" lengthAdjust="spacingAndGlyphs">=</text>
<text x="855.8" y="1046.2" font-family="'Liberation Serif',serif" font-size="25.5" fill="#000" textLength="44.7" lengthAdjust="spacingAndGlyphs">0.7<tspan font-size="30">)</tspan></text>
<defs>
<filter id="pb5" x="-10%" y="-10%" width="120%" height="120%"><feGaussianBlur stdDeviation="5"/></filter>
<filter id="pb8" x="-10%" y="-10%" width="120%" height="120%"><feGaussianBlur stdDeviation="8"/></filter>
<filter id="pb7" x="-10%" y="-10%" width="120%" height="120%"><feGaussianBlur stdDeviation="7"/></filter>
<filter id="pb6" x="-10%" y="-10%" width="120%" height="120%"><feGaussianBlur stdDeviation="6"/></filter>
<filter id="pb11" x="-10%" y="-10%" width="120%" height="120%"><feGaussianBlur stdDeviation="11"/></filter>
<filter id="b10" x="-30%" y="-30%" width="160%" height="160%"><feGaussianBlur stdDeviation="10"/></filter>
<filter id="b20" x="-30%" y="-30%" width="160%" height="160%"><feGaussianBlur stdDeviation="20"/></filter>
<filter id="b35" x="-40%" y="-40%" width="180%" height="180%"><feGaussianBlur stdDeviation="35"/></filter>
<filter id="shadow" x="-10%" y="-20%" width="120%" height="140%"><feGaussianBlur stdDeviation="9.5"/></filter>
<radialGradient id="skinA" cx="0.45" cy="0.42" r="0.65"><stop offset="0" stop-color="#b07f68"/><stop offset="0.55" stop-color="#8a604e"/><stop offset="1" stop-color="#51352b"/></radialGradient>
<radialGradient id="skinB" cx="0.42" cy="0.45" r="0.7"><stop offset="0" stop-color="#dcb09a"/><stop offset="0.55" stop-color="#c2937e"/><stop offset="1" stop-color="#7d5a4c"/></radialGradient>
<linearGradient id="skinC" x1="0" y1="0" x2="1" y2="0"><stop offset="0" stop-color="#c48e70"/><stop offset="0.55" stop-color="#a87358"/><stop offset="1" stop-color="#5e3a2c"/></linearGradient>
<linearGradient id="skinD" x1="0" y1="0" x2="1" y2="0"><stop offset="0" stop-color="#d6a084"/><stop offset="0.5" stop-color="#b67f66"/><stop offset="1" stop-color="#6a4334"/></linearGradient>
<linearGradient id="shirtA" x1="0" y1="0" x2="1" y2="1"><stop offset="0" stop-color="#6a645e"/><stop offset="0.5" stop-color="#777069"/><stop offset="1" stop-color="#5f5a55"/></linearGradient>
<linearGradient id="shirtA3" x1="0" y1="0" x2="0" y2="1"><stop offset="0" stop-color="#a8a1ae"/><stop offset="0.5" stop-color="#bcb6c6"/><stop offset="1" stop-color="#d6d2e0"/></linearGradient>
<linearGradient id="shirtB" x1="0" y1="0" x2="1" y2="1"><stop offset="0" stop-color="#8a8684"/><stop offset="0.5" stop-color="#7c7876"/><stop offset="1" stop-color="#8a8785"/></linearGradient>
<linearGradient id="capA" x1="0" y1="0" x2="1" y2="1"><stop offset="0" stop-color="#151517"/><stop offset="0.45" stop-color="#333338"/><stop offset="1" stop-color="#1b1b1e"/></linearGradient>
<linearGradient id="capA2" x1="0" y1="0" x2="1" y2="1"><stop offset="0" stop-color="#10121a"/><stop offset="0.45" stop-color="#262936"/><stop offset="1" stop-color="#0f1118"/></linearGradient>
<linearGradient id="capB" x1="0" y1="0" x2="1" y2="1"><stop offset="0" stop-color="#24141a"/><stop offset="0.45" stop-color="#3a2228"/><stop offset="1" stop-color="#170c10"/></linearGradient>
<linearGradient id="suitC" x1="0" y1="0" x2="1" y2="0"><stop offset="0" stop-color="#1f1f25"/><stop offset="0.35" stop-color="#34343b"/><stop offset="0.7" stop-color="#2a2a31"/><stop offset="1" stop-color="#17171c"/></linearGradient>
<linearGradient id="suitC3" x1="0" y1="0" x2="1" y2="0"><stop offset="0" stop-color="#3a3a40"/><stop offset="0.35" stop-color="#5c5c63"/><stop offset="0.7" stop-color="#4a4a52"/><stop offset="1" stop-color="#26262b"/></linearGradient>
<linearGradient id="suitD" x1="0" y1="0" x2="1" y2="0"><stop offset="0" stop-color="#19171c"/><stop offset="0.4" stop-color="#2a272c"/><stop offset="0.75" stop-color="#1f1d22"/><stop offset="1" stop-color="#121014"/></linearGradient>
<linearGradient id="tieC" x1="0" y1="0" x2="0" y2="1"><stop offset="0" stop-color="#4650b8"/><stop offset="1" stop-color="#5a66cc"/></linearGradient>
<linearGradient id="tieC2" x1="0" y1="0" x2="0" y2="1"><stop offset="0" stop-color="#6a55c0"/><stop offset="0.25" stop-color="#4aa040"/><stop offset="0.45" stop-color="#8a60d0"/><stop offset="1" stop-color="#a080e0"/></linearGradient>
<linearGradient id="tieC3" x1="0" y1="0" x2="0" y2="1"><stop offset="0" stop-color="#3a34a8"/><stop offset="0.5" stop-color="#5a50d0"/><stop offset="1" stop-color="#b8a8f0"/></linearGradient>
<linearGradient id="tieD" x1="0" y1="0" x2="0" y2="1"><stop offset="0" stop-color="#2436b0"/><stop offset="1" stop-color="#2f48c8"/></linearGradient>
<linearGradient id="globe" x1="0" y1="0" x2="1" y2="1"><stop offset="0" stop-color="#8a7a2a"/><stop offset="0.4" stop-color="#b48c18"/><stop offset="0.75" stop-color="#96400a"/><stop offset="1" stop-color="#3e1204"/></linearGradient>
<linearGradient id="greenS" x1="0" y1="0" x2="0" y2="1"><stop offset="0" stop-color="#3aa83a"/><stop offset="0.6" stop-color="#1a8a70"/><stop offset="1" stop-color="#0c4a6a"/></linearGradient>
<linearGradient id="monD" x1="0" y1="0" x2="1" y2="0"><stop offset="0" stop-color="#f2f8ff"/><stop offset="0.7" stop-color="#cfe4fa"/><stop offset="1" stop-color="#5a8ae0"/></linearGradient>
</defs>
<rect x="607" y="629" width="891" height="304" fill="#000" fill-opacity="0.68" filter="url(#shadow)"/>
<rect x="607.9" y="628" width="889.1" height="303.6" fill="#a9a9a9"/>
<rect x="1040" y="765" width="26" height="30" fill="#bdbdbd" filter="url(#pb5)" opacity="0.0"/>
<clipPath id="tc1"><rect x="607.9" y="628" width="147.0" height="147.79999999999995"/></clipPath>
<g clip-path="url(#tc1)">
<rect x="606.9" y="627" width="149.0" height="149.79999999999995" fill="#fbfbf8"/>
<g transform="translate(604 624) scale(0.14391)" filter="url(#pb6)">
<g transform="translate(0 0)">
<polygon points="80,1060 120,960 175,870 330,770 420,695 560,860 655,640 760,700 960,770 1045,880 1050,1060" fill="url(#shirtA)" />
<polygon points="440,640 430,720 560,875 650,700 655,560 450,580" fill="#80584a" />
<polygon points="420,690 325,850 470,800 555,870" fill="#7d766e" />
<polygon points="655,640 560,870 700,790 800,810 760,700" fill="#746d66" />
<polygon points="560,870 530,1060 600,1060 610,880" fill="#5d5752" />
<polygon points="640,790 600,880 700,800" fill="#3f3a37" />
<ellipse cx="483" cy="832" rx="12" ry="10" fill="#d8d2c8" />
<ellipse cx="553" cy="940" rx="14" ry="12" fill="#e0dad0" />
<ellipse cx="700" cy="470" rx="22" ry="52" fill="#7a5242" />
<ellipse cx="362" cy="470" rx="16" ry="45" fill="#6a4536" />
<path d="M365 400 C360 330 430 300 530 300 C640 300 700 340 695 420 C695 520 670 640 610 700 C570 740 500 745 450 700 C400 640 370 520 365 400 Z" fill="url(#skinA)" />
<path d="M298 365 C310 300 380 230 470 190 C500 176 530 170 550 172 C625 180 682 240 693 320 L703 412 C690 380 672 358 645 348 C600 322 470 322 360 388 C335 388 312 381 298 365 Z" fill="url(#capA)" />
<path d="M352 386 C440 318 560 305 660 350 L694 412 C620 380 480 385 368 440 Z" fill="#120d0b" opacity="0.95"/>
<ellipse cx="430" cy="452" rx="34" ry="15" fill="#241512" />
<ellipse cx="580" cy="442" rx="34" ry="15" fill="#241512" />
<ellipse cx="432" cy="455" rx="12" ry="9" fill="#0d0d20" />
<ellipse cx="580" cy="445" rx="12" ry="9" fill="#15101a" />
<ellipse cx="500" cy="510" rx="30" ry="50" fill="#c49880" opacity="0.5"/>
<ellipse cx="500" cy="562" rx="42" ry="13" fill="#3a2219" />
<path d="M432 600 C470 565 540 565 580 595 L570 610 C530 590 480 592 440 612 Z" fill="#2a1a14" />
<ellipse cx="505" cy="622" rx="56" ry="21" fill="#3a1c1c" />
<ellipse cx="505" cy="617" rx="40" ry="8" fill="#a8968f" />
<ellipse cx="505" cy="645" rx="50" ry="13" fill="#c49a98" />
<ellipse cx="520" cy="715" rx="60" ry="22" fill="#4a3026" opacity="0.7"/>
<polygon points="50,100 60,64 72,64 66,100" fill="#14141f" />
<polygon points="76,100 86,64 98,64 92,100" fill="#14141f" />
<polygon points="102,100 112,64 124,64 118,100" fill="#14141f" />
<polygon points="128,100 138,64 150,64 144,100" fill="#14141f" />
<polygon points="154,100 164,64 176,64 170,100" fill="#14141f" />
<rect x="140" y="62" width="40" height="9" fill="#14141f" />
</g>
</g></g>
<clipPath id="tc2"><rect x="754.9" y="628" width="148.30000000000007" height="147.79999999999995"/></clipPath>
<g clip-path="url(#tc2)">
<rect x="753.9" y="627" width="150.30000000000007" height="149.79999999999995" fill="#fafaf8"/>
<g transform="translate(751 624) scale(0.14391)" filter="url(#pb6)">
<g transform="translate(0 0)">
<polygon points="40,1060 70,980 120,905 330,790 380,710 520,920 640,690 720,740 900,800 1000,900 1060,985 1060,1060" fill="url(#shirtA)" />
<polygon points="400,650 395,740 520,925 630,720 640,580 410,600" fill="#80584a" />
<polygon points="380,705 270,890 420,830 515,925" fill="#7d766e" />
<polygon points="640,690 520,925 690,810 800,900 730,745" fill="#746d66" />
<polygon points="515,925 480,1060 560,1060 570,930" fill="#5d5752" />
<polygon points="610,800 560,930 700,830" fill="#3f3a37" />
<ellipse cx="440" cy="870" rx="12" ry="10" fill="#d8d2c8" />
<ellipse cx="512" cy="988" rx="15" ry="13" fill="#e8e2d8" />
<ellipse cx="668" cy="495" rx="20" ry="52" fill="#7a5242" />
<ellipse cx="318" cy="510" rx="18" ry="48" fill="#6a4536" />
<path d="M325 420 C320 340 400 310 500 310 C610 310 670 350 665 440 C665 540 640 660 580 720 C540 760 470 760 420 715 C365 650 330 540 325 420 Z" fill="url(#skinA)" />
<path d="M298 400 C300 310 390 215 500 190 C600 195 670 270 680 360 L660 445 C650 400 640 370 610 355 C540 320 430 320 350 400 L325 450 C305 440 298 420 298 400 Z" fill="url(#capA2)" />
<path d="M345 400 C430 330 540 320 625 365 L662 440 C580 400 450 402 330 462 Z" fill="#120d0b" opacity="0.95"/>
<ellipse cx="430" cy="470" rx="36" ry="14" fill="#241512" />
<ellipse cx="585" cy="465" rx="36" ry="14" fill="#241512" />
<ellipse cx="505" cy="520" rx="32" ry="55" fill="#c49880" opacity="0.45"/>
<ellipse cx="505" cy="575" rx="44" ry="13" fill="#3a2219" />
<path d="M435 615 C470 585 545 585 585 612 L575 626 C535 608 485 608 445 628 Z" fill="#2a1a14" />
<ellipse cx="510" cy="640" rx="56" ry="20" fill="#3a1c1c" />
<ellipse cx="508" cy="634" rx="40" ry="8" fill="#a8968f" />
<ellipse cx="510" cy="662" rx="48" ry="12" fill="#c49a98" />
<ellipse cx="510" cy="730" rx="65" ry="22" fill="#4a3026" opacity="0.7"/>
</g>
</g></g>
<clipPath id="tc3"><rect x="903.2" y="628" width="146.79999999999995" height="147.79999999999995"/></clipPath>
<g clip-path="url(#tc3)">
<rect x="902.2" y="627" width="148.79999999999995" height="149.79999999999995" fill="#f7f8f6"/>
<g transform="translate(898 624) scale(0.14391)" filter="url(#pb11)">
<g transform="translate(0 0)">
<polygon points="45,1060 60,990 100,950 300,830 380,745 540,950 640,700 760,760 930,825 1020,930 1060,1000 1060,1060" fill="url(#shirtA3)" />
<polygon points="400,680 395,760 540,955 640,740 650,600 410,620" fill="#86604f" />
<polygon points="380,745 300,900 440,860 535,950" fill="#bdb6c4" />
<polygon points="640,700 540,950 690,830 780,900 760,760" fill="#b2abba" />
<path d="M310 900 C350 850 420 850 470 900 C430 890 380 905 330 930 Z" fill="#34344a" filter="url(#b10)"/>
<path d="M620 850 C680 820 740 850 770 910 C720 880 670 880 640 900 Z" fill="#34344a" filter="url(#b10)"/>
<ellipse cx="640" cy="470" rx="18" ry="48" fill="#7a5242" />
<ellipse cx="300" cy="525" rx="18" ry="45" fill="#6a4536" />
<path d="M310 450 C305 370 390 335 490 335 C590 335 650 370 648 460 C650 560 640 660 590 725 C550 765 480 765 430 720 C360 660 320 560 310 450 Z" fill="url(#skinA)" />
<path d="M272 430 C275 340 360 240 490 205 C600 230 670 290 682 350 C680 380 660 395 640 400 C600 340 480 330 400 380 C350 410 315 450 295 480 C278 470 272 450 272 430 Z" fill="url(#capA2)" />
<path d="M325 440 C400 360 540 340 632 395 L645 452 C560 415 430 420 318 500 Z" fill="#120d0b" opacity="0.9"/>
<ellipse cx="430" cy="490" rx="38" ry="13" fill="#241512" />
<ellipse cx="580" cy="470" rx="36" ry="13" fill="#241512" />
<ellipse cx="515" cy="530" rx="32" ry="55" fill="#c49880" opacity="0.45"/>
<ellipse cx="525" cy="580" rx="46" ry="13" fill="#3a2219" />
<path d="M450 625 C490 595 560 590 600 610 L590 626 C550 612 500 615 460 640 Z" fill="#2a1a14" />
<ellipse cx="530" cy="640" rx="64" ry="22" fill="#3a1c1c" />
<ellipse cx="535" cy="650" rx="50" ry="12" fill="#c49a98" />
<ellipse cx="520" cy="735" rx="70" ry="25" fill="#4a3026" opacity="0.7"/>
<rect x="37" y="28" width="180" height="75" fill="#dcecd0" filter="url(#b20)" opacity="0.8"/>
</g>
</g></g>
<clipPath id="tc4"><rect x="609.0" y="784" width="146.79999999999995" height="147.60000000000002"/></clipPath>
<g clip-path="url(#tc4)">
<rect x="608.0" y="783" width="148.79999999999995" height="149.60000000000002" fill="#fcfcfc"/>
<g transform="translate(604 779) scale(0.14391)" filter="url(#pb6)">
<g transform="translate(0 0)">
<polygon points="30,1065 40,1000 95,900 160,840 380,750 450,690 440,800 560,950 740,800 750,670 820,750 1020,860 1060,905 1060,1065" fill="url(#shirtB)" />
<polygon points="440,690 440,812 560,962 748,812 756,690" fill="#cfa690" />
<polygon points="480,560 452,800 560,957 728,822 742,700 735,560" fill="#cfa690" />
<ellipse cx="600" cy="690" rx="150" ry="60" fill="#9a7464" opacity="0.75" filter="url(#b20)"/>
<polygon points="452,690 390,750 330,870 430,832 462,812 452,760" fill="#8d8987" />
<polygon points="750,668 724,822 800,930 830,760" fill="#85817f" />
<polygon points="390,748 432,758 425,830 305,918 345,850" fill="#1c1418" />
<polygon points="560,952 722,838 752,880 600,985" fill="#1c1418" />
<polygon points="560,955 520,1065 590,1065 600,985" fill="#6f6b69" />
<ellipse cx="555" cy="1000" rx="18" ry="18" fill="#15101a" />
<ellipse cx="530" cy="1050" rx="16" ry="16" fill="#15101a" />
<ellipse cx="200" cy="880" rx="5" ry="5" fill="#2a2628" />
<ellipse cx="230" cy="920" rx="5" ry="5" fill="#2a2628" />
<ellipse cx="260" cy="870" rx="5" ry="5" fill="#2a2628" />
<ellipse cx="240" cy="960" rx="5" ry="5" fill="#2a2628" />
<ellipse cx="290" cy="900" rx="5" ry="5" fill="#2a2628" />
<ellipse cx="180" cy="940" rx="5" ry="5" fill="#2a2628" />
<ellipse cx="330" cy="940" rx="5" ry="5" fill="#2a2628" />
<ellipse cx="210" cy="1000" rx="5" ry="5" fill="#2a2628" />
<ellipse cx="270" cy="990" rx="5" ry="5" fill="#2a2628" />
<ellipse cx="760" cy="760" rx="5" ry="5" fill="#2a2628" />
<ellipse cx="790" cy="820" rx="5" ry="5" fill="#2a2628" />
<ellipse cx="780" cy="880" rx="5" ry="5" fill="#2a2628" />
<ellipse cx="803" cy="470" rx="24" ry="58" fill="#c08a78" />
<path d="M770 330 L825 300 L815 420 L790 440 L760 560 L750 400 Z" fill="#1a1012" />
<path d="M420 330 C420 260 500 215 600 215 C700 215 775 270 775 360 C775 470 760 560 700 640 C660 690 560 700 500 650 C440 590 420 470 420 330 Z" fill="url(#skinB)" />
<path d="M365 235 C370 150 480 95 600 92 C720 95 830 180 825 320 L815 400 L770 405 C760 330 740 290 700 270 C620 225 500 220 440 262 L420 332 C385 310 365 280 365 235 Z" fill="url(#capB)" />
<path d="M440 262 C500 222 620 225 700 270 L740 320 C640 280 520 280 430 330 Z" fill="#5a3a30" opacity="0.6"/>
<ellipse cx="490" cy="358" rx="32" ry="15" fill="#2a1a18" />
<ellipse cx="640" cy="358" rx="32" ry="15" fill="#2a1a18" />
<path d="M445 322 C480 305 520 308 540 320 L540 330 C510 322 480 322 448 336 Z" fill="#2a1a18" />
<path d="M600 318 C640 305 690 308 715 325 L712 336 C680 322 640 322 602 330 Z" fill="#2a1a18" />
<ellipse cx="555" cy="420" rx="34" ry="60" fill="#e8bca6" opacity="0.6"/>
<ellipse cx="560" cy="462" rx="40" ry="12" fill="#8a5a4a" opacity="0.8"/>
<ellipse cx="470" cy="460" rx="50" ry="40" fill="#d08880" opacity="0.25"/>
<ellipse cx="700" cy="460" rx="45" ry="40" fill="#d08880" opacity="0.2"/>
<ellipse cx="560" cy="590" rx="130" ry="80" fill="#8a7a70" opacity="0.4" filter="url(#b20)"/>
<ellipse cx="550" cy="545" rx="62" ry="26" fill="#5a2a2a" />
<ellipse cx="548" cy="538" rx="44" ry="10" fill="#d8ccc8" />
<ellipse cx="552" cy="565" rx="46" ry="12" fill="#d09090" />
</g>
</g></g>
<clipPath id="tc5"><rect x="755.8" y="784" width="146.70000000000005" height="147.60000000000002"/></clipPath>
<g clip-path="url(#tc5)">
<rect x="754.8" y="783" width="148.70000000000005" height="149.60000000000002" fill="#fcfcfc"/>
<g transform="translate(751 779) scale(0.14391)" filter="url(#pb6)">
<g transform="translate(0 0)">
<polygon points="30,1065 60,960 200,840 350,760 420,690 430,800 530,940 700,830 715,680 790,740 1000,860 1060,930 1060,1065" fill="url(#shirtB)" />
<polygon points="412,690 420,812 530,952 712,832 722,690" fill="#cfa690" />
<polygon points="440,560 430,800 530,947 702,832 712,700 705,560" fill="#cfa690" />
<ellipse cx="565" cy="705" rx="150" ry="60" fill="#9a7464" opacity="0.75" filter="url(#b20)"/>
<polygon points="420,690 350,760 300,880 400,830 430,800" fill="#8d8987" />
<polygon points="716,678 698,834 790,920 800,760" fill="#85817f" />
<polygon points="300,860 372,808 392,860 312,918" fill="#1c1418" />
<polygon points="530,942 690,842 750,900 565,972" fill="#1c1418" />
<polygon points="530,945 495,1065 570,1065 570,975" fill="#6f6b69" />
<path d="M505 990 L555 990 L560 1060 L500 1060 Z" fill="#15101a" />
<ellipse cx="160" cy="900" rx="5" ry="5" fill="#2a2628" />
<ellipse cx="200" cy="880" rx="5" ry="5" fill="#2a2628" />
<ellipse cx="230" cy="920" rx="5" ry="5" fill="#2a2628" />
<ellipse cx="260" cy="870" rx="5" ry="5" fill="#2a2628" />
<ellipse cx="240" cy="960" rx="5" ry="5" fill="#2a2628" />
<ellipse cx="290" cy="900" rx="5" ry="5" fill="#2a2628" />
<ellipse cx="180" cy="940" rx="5" ry="5" fill="#2a2628" />
<ellipse cx="330" cy="940" rx="5" ry="5" fill="#2a2628" />
<ellipse cx="210" cy="1000" rx="5" ry="5" fill="#2a2628" />
<ellipse cx="270" cy="990" rx="5" ry="5" fill="#2a2628" />
<ellipse cx="300" cy="960" rx="5" ry="5" fill="#2a2628" />
<ellipse cx="150" cy="980" rx="5" ry="5" fill="#2a2628" />
<ellipse cx="740" cy="760" rx="5" ry="5" fill="#2a2628" />
<ellipse cx="770" cy="810" rx="5" ry="5" fill="#2a2628" />
<ellipse cx="760" cy="870" rx="5" ry="5" fill="#2a2628" />
<ellipse cx="752" cy="460" rx="22" ry="58" fill="#c08a78" />
<ellipse cx="372" cy="460" rx="18" ry="52" fill="#c08a78" />
<path d="M372 340 C372 270 450 240 560 240 C670 240 750 280 750 370 C750 470 735 570 680 650 C640 705 520 710 465 660 C400 600 372 470 372 340 Z" fill="url(#skinB)" />
<path d="M330 285 C340 170 450 95 560 92 C680 95 760 200 760 330 L745 405 C730 320 690 285 640 268 C560 245 450 255 400 302 L378 395 C345 370 330 330 330 285 Z" fill="url(#capB)" />
<path d="M400 302 C460 258 560 245 640 268 L700 320 C610 290 480 300 395 360 Z" fill="#5a3a30" opacity="0.6"/>
<ellipse cx="458" cy="380" rx="32" ry="15" fill="#2a1a18" />
<ellipse cx="620" cy="375" rx="32" ry="15" fill="#2a1a18" />
<path d="M405 345 C440 325 490 328 515 345 L514 356 C480 342 440 342 408 358 Z" fill="#2a1a18" />
<path d="M580 338 C620 322 670 325 700 342 L698 354 C665 340 620 340 582 350 Z" fill="#2a1a18" />
<ellipse cx="548" cy="440" rx="34" ry="62" fill="#e8bca6" opacity="0.6"/>
<ellipse cx="552" cy="485" rx="42" ry="12" fill="#8a5a4a" opacity="0.8"/>
<ellipse cx="440" cy="470" rx="50" ry="40" fill="#d08880" opacity="0.25"/>
<ellipse cx="680" cy="470" rx="45" ry="40" fill="#d08880" opacity="0.2"/>
<ellipse cx="555" cy="610" rx="140" ry="80" fill="#8a7a70" opacity="0.4" filter="url(#b20)"/>
<ellipse cx="552" cy="570" rx="66" ry="26" fill="#5a2a2a" />
<ellipse cx="550" cy="562" rx="44" ry="9" fill="#d8ccc8" />
<ellipse cx="554" cy="588" rx="48" ry="13" fill="#d09090" />
</g>
</g></g>
<clipPath id="tc6"><rect x="902.5" y="784" width="147.5" height="147.60000000000002"/></clipPath>
<g clip-path="url(#tc6)">
<rect x="901.5" y="783" width="149.5" height="149.60000000000002" fill="#fcfcfc"/>
<g transform="translate(898 779) scale(0.14391)" filter="url(#pb6)">
<g transform="translate(12 0)">
<polygon points="30,1065 60,960 200,840 350,760 420,690 430,800 530,940 700,830 715,680 790,740 1000,860 1060,930 1060,1065" fill="url(#shirtB)" />
<polygon points="412,690 420,812 530,952 712,832 722,690" fill="#cfa690" />
<polygon points="440,560 430,800 530,947 702,832 712,700 705,560" fill="#cfa690" />
<ellipse cx="565" cy="705" rx="150" ry="60" fill="#9a7464" opacity="0.75" filter="url(#b20)"/>
<polygon points="420,690 350,760 300,880 400,830 430,800" fill="#8d8987" />
<polygon points="716,678 698,834 790,920 800,760" fill="#85817f" />
<polygon points="300,860 372,808 392,860 312,918" fill="#1c1418" />
<polygon points="530,942 690,842 750,900 565,972" fill="#1c1418" />
<polygon points="530,945 495,1065 570,1065 570,975" fill="#6f6b69" />
<path d="M505 990 L555 990 L560 1060 L500 1060 Z" fill="#15101a" />
<ellipse cx="160" cy="900" rx="5" ry="5" fill="#2a2628" />
<ellipse cx="200" cy="880" rx="5" ry="5" fill="#2a2628" />
<ellipse cx="230" cy="920" rx="5" ry="5" fill="#2a2628" />
<ellipse cx="260" cy="870" rx="5" ry="5" fill="#2a2628" />
<ellipse cx="240" cy="960" rx="5" ry="5" fill="#2a2628" />
<ellipse cx="290" cy="900" rx="5" ry="5" fill="#2a2628" />
<ellipse cx="180" cy="940" rx="5" ry="5" fill="#2a2628" />
<ellipse cx="330" cy="940" rx="5" ry="5" fill="#2a2628" />
<ellipse cx="210" cy="1000" rx="5" ry="5" fill="#2a2628" />
<ellipse cx="270" cy="990" rx="5" ry="5" fill="#2a2628" />
<ellipse cx="300" cy="960" rx="5" ry="5" fill="#2a2628" />
<ellipse cx="150" cy="980" rx="5" ry="5" fill="#2a2628" />
<ellipse cx="740" cy="760" rx="5" ry="5" fill="#2a2628" />
<ellipse cx="770" cy="810" rx="5" ry="5" fill="#2a2628" />
<ellipse cx="760" cy="870" rx="5" ry="5" fill="#2a2628" />
<ellipse cx="752" cy="460" rx="22" ry="58" fill="#c08a78" />
<ellipse cx="372" cy="460" rx="18" ry="52" fill="#c08a78" />
<path d="M372 340 C372 270 450 240 560 240 C670 240 750 280 750 370 C750 470 735 570 680 650 C640 705 520 710 465 660 C400 600 372 470 372 340 Z" fill="url(#skinB)" />
<path d="M330 285 C340 170 450 95 560 92 C680 95 760 200 760 330 L745 405 C730 320 690 285 640 268 C560 245 450 255 400 302 L378 395 C345 370 330 330 330 285 Z" fill="url(#capB)" />
<path d="M400 302 C460 258 560 245 640 268 L700 320 C610 290 480 300 395 360 Z" fill="#5a3a30" opacity="0.6"/>
<ellipse cx="458" cy="380" rx="32" ry="15" fill="#2a1a18" />
<ellipse cx="620" cy="375" rx="32" ry="15" fill="#2a1a18" />
<path d="M405 345 C440 325 490 328 515 345 L514 356 C480 342 440 342 408 358 Z" fill="#2a1a18" />
<path d="M580 338 C620 322 670 325 700 342 L698 354 C665 340 620 340 582 350 Z" fill="#2a1a18" />
<ellipse cx="548" cy="440" rx="34" ry="62" fill="#e8bca6" opacity="0.6"/>
<ellipse cx="552" cy="485" rx="42" ry="12" fill="#8a5a4a" opacity="0.8"/>
<ellipse cx="440" cy="470" rx="50" ry="40" fill="#d08880" opacity="0.25"/>
<ellipse cx="680" cy="470" rx="45" ry="40" fill="#d08880" opacity="0.2"/>
<ellipse cx="555" cy="610" rx="140" ry="80" fill="#8a7a70" opacity="0.4" filter="url(#b20)"/>
<ellipse cx="552" cy="548" rx="66" ry="20" fill="#c07878" />
<path d="M490 545 L615 545" fill="none" stroke="#5a2a2a" stroke-width="6"/>
</g>
</g></g>
<linearGradient id="seam" x1="0" y1="0" x2="1" y2="0"><stop offset="0" stop-color="#000" stop-opacity="0"/><stop offset="1" stop-color="#000" stop-opacity="0.2"/></linearGradient>
<rect x="748.9" y="628" width="6" height="147.79999999999995" fill="url(#seam)"/>
<rect x="897.2" y="628" width="6" height="147.79999999999995" fill="url(#seam)"/>
<rect x="749.8" y="784" width="6" height="147.60000000000002" fill="url(#seam)"/>
<rect x="896.5" y="784" width="6" height="147.60000000000002" fill="url(#seam)"/>
<clipPath id="tc7"><rect x="1056.0" y="628" width="146.0" height="147.79999999999995"/></clipPath>
<g clip-path="url(#tc7)">
<rect x="1055.0" y="627" width="148.0" height="149.79999999999995" fill="#04060c"/>
<g transform="translate(1052 624) scale(0.14391)" filter="url(#pb7)">
<g transform="translate(0 0)" filter="url(#b10)">
<ellipse cx="130" cy="50" rx="26" ry="12" fill="#102c9c" opacity="0.75"/>
<ellipse cx="195" cy="50" rx="26" ry="12" fill="#102c9c" opacity="0.75"/>
<ellipse cx="260" cy="50" rx="26" ry="12" fill="#102c9c" opacity="0.75"/>
<ellipse cx="325" cy="50" rx="26" ry="12" fill="#102c9c" opacity="0.75"/>
<ellipse cx="385" cy="50" rx="26" ry="12" fill="#102c9c" opacity="0.75"/>
<ellipse cx="130" cy="105" rx="26" ry="12" fill="#102c9c" opacity="0.75"/>
<ellipse cx="195" cy="105" rx="26" ry="12" fill="#102c9c" opacity="0.75"/>
<ellipse cx="260" cy="105" rx="26" ry="12" fill="#102c9c" opacity="0.75"/>
<ellipse cx="325" cy="105" rx="26" ry="12" fill="#102c9c" opacity="0.75"/>
<ellipse cx="385" cy="105" rx="26" ry="12" fill="#102c9c" opacity="0.75"/>
<ellipse cx="130" cy="160" rx="26" ry="12" fill="#102c9c" opacity="0.75"/>
<ellipse cx="195" cy="160" rx="26" ry="12" fill="#102c9c" opacity="0.75"/>
<ellipse cx="260" cy="160" rx="26" ry="12" fill="#102c9c" opacity="0.75"/>
<ellipse cx="325" cy="160" rx="26" ry="12" fill="#102c9c" opacity="0.75"/>
<ellipse cx="385" cy="160" rx="26" ry="12" fill="#102c9c" opacity="0.75"/>
<ellipse cx="130" cy="212" rx="26" ry="12" fill="#102c9c" opacity="0.75"/>
<ellipse cx="195" cy="212" rx="26" ry="12" fill="#102c9c" opacity="0.75"/>
<ellipse cx="260" cy="212" rx="26" ry="12" fill="#102c9c" opacity="0.75"/>
<ellipse cx="325" cy="212" rx="26" ry="12" fill="#102c9c" opacity="0.75"/>
<ellipse cx="385" cy="212" rx="26" ry="12" fill="#102c9c" opacity="0.75"/>
<ellipse cx="130" cy="258" rx="26" ry="12" fill="#102c9c" opacity="0.75"/>
<ellipse cx="195" cy="258" rx="26" ry="12" fill="#102c9c" opacity="0.75"/>
<ellipse cx="260" cy="258" rx="26" ry="12" fill="#102c9c" opacity="0.75"/>
<ellipse cx="325" cy="258" rx="26" ry="12" fill="#102c9c" opacity="0.75"/>
<ellipse cx="385" cy="258" rx="26" ry="12" fill="#102c9c" opacity="0.75"/>
<rect x="200" y="82" width="50" height="22" fill="#9a4070" opacity="0.8"/>
<rect x="288" y="88" width="45" height="24" fill="#a85060" opacity="0.8"/>
<rect x="515" y="20" width="455" height="252" fill="url(#globe)" />
<path d="M760 273 C800 215 900 180 970 185 L970 273 Z" fill="#2e0c03" opacity="0.9"/>
<path d="M515 200 C600 280 760 270 860 180 L970 120 L970 273 L515 273 Z" fill="#a84a0c" opacity="0.45"/>
<rect x="528" y="34" width="46" height="30" fill="#7f9cc8" opacity="0.75"/>
<rect x="598" y="34" width="46" height="30" fill="#7f9cc8" opacity="0.75"/>
<rect x="668" y="34" width="46" height="30" fill="#7f9cc8" opacity="0.75"/>
<rect x="738" y="34" width="46" height="30" fill="#7f9cc8" opacity="0.75"/>
<rect x="808" y="34" width="46" height="30" fill="#7f9cc8" opacity="0.75"/>
<rect x="878" y="34" width="46" height="30" fill="#7f9cc8" opacity="0.75"/>
<rect x="948" y="34" width="46" height="30" fill="#7f9cc8" opacity="0.75"/>
<rect x="528" y="84" width="46" height="30" fill="#7f9cc8" opacity="0.75"/>
<rect x="598" y="84" width="46" height="30" fill="#7f9cc8" opacity="0.75"/>
<rect x="668" y="84" width="46" height="30" fill="#7f9cc8" opacity="0.75"/>
<rect x="738" y="84" width="46" height="30" fill="#7f9cc8" opacity="0.75"/>
<rect x="808" y="84" width="46" height="30" fill="#7f9cc8" opacity="0.75"/>
<rect x="878" y="84" width="46" height="30" fill="#7f9cc8" opacity="0.75"/>
<rect x="948" y="84" width="46" height="30" fill="#7f9cc8" opacity="0.75"/>
<path d="M690 322 L822 322 L790 380 L765 450 L665 455 Z" fill="url(#greenS)" />
<rect x="145" y="400" width="95" height="76" fill="#c4e0ec" />
<rect x="195" y="440" width="48" height="34" fill="#7a3a28" opacity="0.75"/>
<ellipse cx="330" cy="440" rx="32" ry="18" fill="#141a58" opacity="0.8"/>
<rect x="-40" y="560" width="400" height="50" fill="#0c28c8" />
<rect x="-40" y="575" width="400" height="18" fill="#2a5cf4" />
<rect x="800" y="560" width="400" height="50" fill="#0c28c8" />
<rect x="800" y="575" width="400" height="18" fill="#2a5cf4" />
<rect x="165" y="602" width="140" height="40" fill="#a4ccfc" />
<rect x="880" y="602" width="80" height="28" fill="#5a8ae8" opacity="0.8"/>
<rect x="28" y="650" width="150" height="215" fill="#050b2a" opacity="0.9"/>
<rect x="28" y="862" width="170" height="14" fill="#2a2a38" />
</g>
<rect x="995" y="820" width="50" height="120" fill="#c8dcf4" />
<rect x="1040" y="28" width="10" height="240" fill="#c07818" />
<polygon points="465,500 480,640 520,800 610,800 650,640 690,500 600,580 540,590" fill="#f0ece8" />
<polygon points="560,600 600,790 650,640 660,560" fill="#d8d0cc" />
<polygon points="515,598 550,570 592,590 580,640 615,790 600,950 570,1015 540,880 515,770 535,650" fill="url(#tieC)" />
<polygon points="480,440 475,540 540,595 610,575 665,480 660,400" fill="#8a5840" />
<ellipse cx="700" cy="340" rx="28" ry="58" fill="#a87058" />
<path d="M435 290 C435 200 470 150 545 145 C625 150 665 210 668 300 C668 400 650 480 610 525 C575 560 520 555 490 525 C450 470 435 380 435 290 Z" fill="url(#skinC)" />
<path d="M422 285 C425 180 470 120 560 112 C650 115 710 180 722 290 L695 335 L660 318 C655 250 630 215 590 196 C545 182 495 190 470 220 C452 245 444 270 442 292 Z" fill="#0c0c10" />
<ellipse cx="478" cy="305" rx="30" ry="13" fill="#1a1010" />
<ellipse cx="585" cy="305" rx="30" ry="13" fill="#1a1010" />
<path d="M440 275 C465 255 500 258 520 275 L518 287 C495 275 465 275 442 290 Z" fill="#150c0c" />
<path d="M550 275 C580 258 620 260 640 280 L636 292 C612 278 580 278 552 288 Z" fill="#150c0c" />
<ellipse cx="515" cy="360" rx="26" ry="55" fill="#d09878" opacity="0.5"/>
<ellipse cx="520" cy="400" rx="36" ry="12" fill="#4a2a20" />
<ellipse cx="520" cy="450" rx="48" ry="30" fill="#2a0c0c" />
<ellipse cx="516" cy="442" rx="34" ry="11" fill="#ece4e4" />
<ellipse cx="520" cy="470" rx="36" ry="10" fill="#b06a6a" />
<path d="M170 1065 L185 800 L215 645 L330 580 L468 502 L480 560 L520 800 L572 1040 L620 800 L665 600 L690 500 L780 580 L940 640 L970 760 L985 950 L1010 1065 Z" fill="url(#suitC)" />
<path d="M468 502 L340 590 L360 640 L330 670 L560 1050 L572 1040 L520 800 L480 560 Z" fill="#232329" />
<path d="M690 500 L775 600 L740 640 L770 680 L585 1050 L572 1040 L620 800 L665 600 Z" fill="#1c1c22" />
<path d="M215 645 L185 800 L170 1065 L260 1065 L250 800 Z" fill="#15151a" opacity="0.7"/>
<path d="M690 905 L820 895 L825 960 L690 965 Z" fill="#202026" />
<ellipse cx="500" cy="822" rx="22" ry="22" fill="#0c0c0c" />
<ellipse cx="655" cy="735" rx="30" ry="22" fill="#0c0c0c" />
<ellipse cx="355" cy="1035" rx="32" ry="30" fill="#e0a888" />
<path d="M740 1065 C760 1000 800 940 850 940 L870 1065 Z" fill="#e4b090" />
</g></g>
<clipPath id="tc8"><rect x="1202.0" y="628" width="147.0" height="147.79999999999995"/></clipPath>
<g clip-path="url(#tc8)">
<rect x="1201.0" y="627" width="149.0" height="149.79999999999995" fill="#04060c"/>
<g transform="translate(1198 624) scale(0.14391)" filter="url(#pb7)">
<g transform="translate(-30 0)" filter="url(#b10)">
<ellipse cx="130" cy="50" rx="26" ry="12" fill="#102c9c" opacity="0.75"/>
<ellipse cx="195" cy="50" rx="26" ry="12" fill="#102c9c" opacity="0.75"/>
<ellipse cx="260" cy="50" rx="26" ry="12" fill="#102c9c" opacity="0.75"/>
<ellipse cx="325" cy="50" rx="26" ry="12" fill="#102c9c" opacity="0.75"/>
<ellipse cx="385" cy="50" rx="26" ry="12" fill="#102c9c" opacity="0.75"/>
<ellipse cx="130" cy="105" rx="26" ry="12" fill="#102c9c" opacity="0.75"/>
<ellipse cx="195" cy="105" rx="26" ry="12" fill="#102c9c" opacity="0.75"/>
<ellipse cx="260" cy="105" rx="26" ry="12" fill="#102c9c" opacity="0.75"/>
<ellipse cx="325" cy="105" rx="26" ry="12" fill="#102c9c" opacity="0.75"/>
<ellipse cx="385" cy="105" rx="26" ry="12" fill="#102c9c" opacity="0.75"/>
<ellipse cx="130" cy="160" rx="26" ry="12" fill="#102c9c" opacity="0.75"/>
<ellipse cx="195" cy="160" rx="26" ry="12" fill="#102c9c" opacity="0.75"/>
<ellipse cx="260" cy="160" rx="26" ry="12" fill="#102c9c" opacity="0.75"/>
<ellipse cx="325" cy="160" rx="26" ry="12" fill="#102c9c" opacity="0.75"/>
<ellipse cx="385" cy="160" rx="26" ry="12" fill="#102c9c" opacity="0.75"/>
<ellipse cx="130" cy="212" rx="26" ry="12" fill="#102c9c" opacity="0.75"/>
<ellipse cx="195" cy="212" rx="26" ry="12" fill="#102c9c" opacity="0.75"/>
<ellipse cx="260" cy="212" rx="26" ry="12" fill="#102c9c" opacity="0.75"/>
<ellipse cx="325" cy="212" rx="26" ry="12" fill="#102c9c" opacity="0.75"/>
<ellipse cx="385" cy="212" rx="26" ry="12" fill="#102c9c" opacity="0.75"/>
<ellipse cx="130" cy="258" rx="26" ry="12" fill="#102c9c" opacity="0.75"/>
<ellipse cx="195" cy="258" rx="26" ry="12" fill="#102c9c" opacity="0.75"/>
<ellipse cx="260" cy="258" rx="26" ry="12" fill="#102c9c" opacity="0.75"/>
<ellipse cx="325" cy="258" rx="26" ry="12" fill="#102c9c" opacity="0.75"/>
<ellipse cx="385" cy="258" rx="26" ry="12" fill="#102c9c" opacity="0.75"/>
<rect x="200" y="82" width="50" height="22" fill="#9a4070" opacity="0.8"/>
<rect x="288" y="88" width="45" height="24" fill="#a85060" opacity="0.8"/>
<rect x="515" y="20" width="455" height="252" fill="url(#globe)" />
<path d="M760 273 C800 215 900 180 970 185 L970 273 Z" fill="#2e0c03" opacity="0.9"/>
<path d="M515 200 C600 280 760 270 860 180 L970 120 L970 273 L515 273 Z" fill="#a84a0c" opacity="0.45"/>
<rect x="528" y="34" width="46" height="30" fill="#7f9cc8" opacity="0.75"/>
<rect x="598" y="34" width="46" height="30" fill="#7f9cc8" opacity="0.75"/>
<rect x="668" y="34" width="46" height="30" fill="#7f9cc8" opacity="0.75"/>
<rect x="738" y="34" width="46" height="30" fill="#7f9cc8" opacity="0.75"/>
<rect x="808" y="34" width="46" height="30" fill="#7f9cc8" opacity="0.75"/>
<rect x="878" y="34" width="46" height="30" fill="#7f9cc8" opacity="0.75"/>
<rect x="948" y="34" width="46" height="30" fill="#7f9cc8" opacity="0.75"/>
<rect x="528" y="84" width="46" height="30" fill="#7f9cc8" opacity="0.75"/>
<rect x="598" y="84" width="46" height="30" fill="#7f9cc8" opacity="0.75"/>
<rect x="668" y="84" width="46" height="30" fill="#7f9cc8" opacity="0.75"/>
<rect x="738" y="84" width="46" height="30" fill="#7f9cc8" opacity="0.75"/>
<rect x="808" y="84" width="46" height="30" fill="#7f9cc8" opacity="0.75"/>
<rect x="878" y="84" width="46" height="30" fill="#7f9cc8" opacity="0.75"/>
<rect x="948" y="84" width="46" height="30" fill="#7f9cc8" opacity="0.75"/>
<path d="M690 322 L822 322 L790 380 L765 450 L665 455 Z" fill="url(#greenS)" />
<rect x="145" y="400" width="95" height="76" fill="#c4e0ec" />
<rect x="195" y="440" width="48" height="34" fill="#7a3a28" opacity="0.75"/>
<ellipse cx="330" cy="440" rx="32" ry="18" fill="#141a58" opacity="0.8"/>
<rect x="-40" y="560" width="400" height="50" fill="#0c28c8" />
<rect x="-40" y="575" width="400" height="18" fill="#2a5cf4" />
<rect x="800" y="560" width="400" height="50" fill="#0c28c8" />
<rect x="800" y="575" width="400" height="18" fill="#2a5cf4" />
<rect x="165" y="602" width="140" height="40" fill="#a4ccfc" />
<rect x="880" y="602" width="80" height="28" fill="#5a8ae8" opacity="0.8"/>
<rect x="28" y="650" width="150" height="215" fill="#050b2a" opacity="0.9"/>
<rect x="28" y="862" width="170" height="14" fill="#2a2a38" />
</g>
<rect x="20" y="28" width="22" height="225" fill="#b06a14" />
<rect x="20" y="820" width="22" height="120" fill="#a8c4e4" />
<rect x="1005" y="28" width="50" height="225" fill="#d0a020" />
<path d="M930 620 L1060 600 L1060 880 L940 880 Z" fill="#262628" />
<polygon points="425,510 440,640 480,800 570,800 610,640 645,500 560,590 500,600" fill="#f0ece8" />
<polygon points="530,610 560,790 610,640 620,560" fill="#d8d0cc" />
<polygon points="472,605 510,583 552,600 540,650 580,800 570,960 550,1020 510,880 480,770 492,660" fill="url(#tieC2)" />
<polygon points="440,450 435,550 500,605 570,585 625,490 620,410" fill="#8a5840" />
<ellipse cx="650" cy="345" rx="26" ry="56" fill="#a87058" />
<path d="M380 300 C380 210 420 160 500 155 C580 160 625 220 628 310 C628 410 610 490 570 535 C535 570 480 565 450 535 C400 480 380 390 380 300 Z" fill="url(#skinC)" />
<path d="M368 295 C370 190 420 128 510 120 C600 124 655 190 668 295 L650 335 L612 322 C607 255 582 222 542 202 C497 188 447 196 420 226 C402 250 392 275 390 297 Z" fill="#0c0c10" />
<ellipse cx="425" cy="322" rx="30" ry="13" fill="#1a1010" />
<ellipse cx="535" cy="320" rx="30" ry="13" fill="#1a1010" />
<path d="M388 292 C415 272 450 275 470 292 L468 304 C445 292 415 292 390 306 Z" fill="#150c0c" />
<path d="M500 290 C530 274 570 276 592 296 L588 308 C564 294 530 294 502 303 Z" fill="#150c0c" />
<ellipse cx="462" cy="375" rx="26" ry="55" fill="#d09878" opacity="0.5"/>
<ellipse cx="468" cy="415" rx="36" ry="12" fill="#4a2a20" />
<ellipse cx="470" cy="468" rx="46" ry="24" fill="#2a0c0c" />
<ellipse cx="468" cy="462" rx="32" ry="9" fill="#d8c8c8" />
<ellipse cx="470" cy="484" rx="34" ry="9" fill="#b06a6a" />
<path d="M150 1065 L160 800 L180 660 L320 585 L428 512 L440 570 L480 800 L552 1040 L590 800 L625 610 L645 500 L760 585 L890 640 L915 800 L905 1065 Z" fill="url(#suitC)" />
<path d="M428 512 L310 600 L330 650 L300 680 L540 1050 L552 1040 L480 800 L440 570 Z" fill="#232329" />
<path d="M645 500 L740 610 L705 650 L735 690 L565 1050 L552 1040 L590 800 L625 610 Z" fill="#1c1c22" />
<path d="M180 660 L160 800 L150 1065 L240 1065 L225 800 Z" fill="#15151a" opacity="0.7"/>
<path d="M665 925 L800 895 L810 950 L670 975 Z" fill="#202026" />
<ellipse cx="470" cy="835" rx="22" ry="22" fill="#0c0c0c" />
<ellipse cx="620" cy="740" rx="32" ry="26" fill="#0c0c0c" />
<path d="M840 1010 L870 1065 L835 1065 Z" fill="#e8e8f0" />
</g></g>
<clipPath id="tc9"><rect x="1349.0" y="628" width="148.0" height="147.79999999999995"/></clipPath>
<g clip-path="url(#tc9)">
<rect x="1348.0" y="627" width="150.0" height="149.79999999999995" fill="#04060c"/>
<g transform="translate(1345 624) scale(0.14391)" filter="url(#pb8)">
<g transform="translate(-30 0)" filter="url(#b10)">
<ellipse cx="130" cy="50" rx="26" ry="12" fill="#102c9c" opacity="0.75"/>
<ellipse cx="195" cy="50" rx="26" ry="12" fill="#102c9c" opacity="0.75"/>
<ellipse cx="260" cy="50" rx="26" ry="12" fill="#102c9c" opacity="0.75"/>
<ellipse cx="325" cy="50" rx="26" ry="12" fill="#102c9c" opacity="0.75"/>
<ellipse cx="385" cy="50" rx="26" ry="12" fill="#102c9c" opacity="0.75"/>
<ellipse cx="130" cy="105" rx="26" ry="12" fill="#102c9c" opacity="0.75"/>
<ellipse cx="195" cy="105" rx="26" ry="12" fill="#102c9c" opacity="0.75"/>
<ellipse cx="260" cy="105" rx="26" ry="12" fill="#102c9c" opacity="0.75"/>
<ellipse cx="325" cy="105" rx="26" ry="12" fill="#102c9c" opacity="0.75"/>
<ellipse cx="385" cy="105" rx="26" ry="12" fill="#102c9c" opacity="0.75"/>
<ellipse cx="130" cy="160" rx="26" ry="12" fill="#102c9c" opacity="0.75"/>
<ellipse cx="195" cy="160" rx="26" ry="12" fill="#102c9c" opacity="0.75"/>
<ellipse cx="260" cy="160" rx="26" ry="12" fill="#102c9c" opacity="0.75"/>
<ellipse cx="325" cy="160" rx="26" ry="12" fill="#102c9c" opacity="0.75"/>
<ellipse cx="385" cy="160" rx="26" ry="12" fill="#102c9c" opacity="0.75"/>
<ellipse cx="130" cy="212" rx="26" ry="12" fill="#102c9c" opacity="0.75"/>
<ellipse cx="195" cy="212" rx="26" ry="12" fill="#102c9c" opacity="0.75"/>
<ellipse cx="260" cy="212" rx="26" ry="12" fill="#102c9c" opacity="0.75"/>
<ellipse cx="325" cy="212" rx="26" ry="12" fill="#102c9c" opacity="0.75"/>
<ellipse cx="385" cy="212" rx="26" ry="12" fill="#102c9c" opacity="0.75"/>
<ellipse cx="130" cy="258" rx="26" ry="12" fill="#102c9c" opacity="0.75"/>
<ellipse cx="195" cy="258" rx="26" ry="12" fill="#102c9c" opacity="0.75"/>
<ellipse cx="260" cy="258" rx="26" ry="12" fill="#102c9c" opacity="0.75"/>
<ellipse cx="325" cy="258" rx="26" ry="12" fill="#102c9c" opacity="0.75"/>
<ellipse cx="385" cy="258" rx="26" ry="12" fill="#102c9c" opacity="0.75"/>
<rect x="200" y="82" width="50" height="22" fill="#9a4070" opacity="0.8"/>
<rect x="288" y="88" width="45" height="24" fill="#a85060" opacity="0.8"/>
<rect x="515" y="20" width="455" height="252" fill="url(#globe)" />
<path d="M760 273 C800 215 900 180 970 185 L970 273 Z" fill="#2e0c03" opacity="0.9"/>
<path d="M515 200 C600 280 760 270 860 180 L970 120 L970 273 L515 273 Z" fill="#a84a0c" opacity="0.45"/>
<rect x="528" y="34" width="46" height="30" fill="#7f9cc8" opacity="0.75"/>
<rect x="598" y="34" width="46" height="30" fill="#7f9cc8" opacity="0.75"/>
<rect x="668" y="34" width="46" height="30" fill="#7f9cc8" opacity="0.75"/>
<rect x="738" y="34" width="46" height="30" fill="#7f9cc8" opacity="0.75"/>
<rect x="808" y="34" width="46" height="30" fill="#7f9cc8" opacity="0.75"/>
<rect x="878" y="34" width="46" height="30" fill="#7f9cc8" opacity="0.75"/>
<rect x="948" y="34" width="46" height="30" fill="#7f9cc8" opacity="0.75"/>
<rect x="528" y="84" width="46" height="30" fill="#7f9cc8" opacity="0.75"/>
<rect x="598" y="84" width="46" height="30" fill="#7f9cc8" opacity="0.75"/>
<rect x="668" y="84" width="46" height="30" fill="#7f9cc8" opacity="0.75"/>
<rect x="738" y="84" width="46" height="30" fill="#7f9cc8" opacity="0.75"/>
<rect x="808" y="84" width="46" height="30" fill="#7f9cc8" opacity="0.75"/>
<rect x="878" y="84" width="46" height="30" fill="#7f9cc8" opacity="0.75"/>
<rect x="948" y="84" width="46" height="30" fill="#7f9cc8" opacity="0.75"/>
<path d="M690 322 L822 322 L790 380 L765 450 L665 455 Z" fill="url(#greenS)" />
<rect x="145" y="400" width="95" height="76" fill="#c4e0ec" />
<rect x="195" y="440" width="48" height="34" fill="#7a3a28" opacity="0.75"/>
<ellipse cx="330" cy="440" rx="32" ry="18" fill="#141a58" opacity="0.8"/>
<rect x="-40" y="560" width="400" height="50" fill="#0c28c8" />
<rect x="-40" y="575" width="400" height="18" fill="#2a5cf4" />
<rect x="800" y="560" width="400" height="50" fill="#0c28c8" />
<rect x="800" y="575" width="400" height="18" fill="#2a5cf4" />
<rect x="165" y="602" width="140" height="40" fill="#a4ccfc" />
<rect x="880" y="602" width="80" height="28" fill="#5a8ae8" opacity="0.8"/>
<rect x="28" y="650" width="150" height="215" fill="#050b2a" opacity="0.9"/>
<rect x="28" y="862" width="170" height="14" fill="#2a2a38" />
</g>
<rect x="20" y="28" width="22" height="225" fill="#a89018" />
<rect x="1005" y="28" width="50" height="225" fill="#c8b020" />
<polygon points="415,520 440,640 500,870 640,900 680,700 665,510 580,590 500,600" fill="#f4f0f0" />
<polygon points="500,592 560,570 602,600 580,650 650,900 620,1065 570,1065 510,860 500,700 520,640" fill="url(#tieC3)" />
<ellipse cx="545" cy="740" rx="14" ry="22" fill="#1a1a50" />
<ellipse cx="545" cy="800" rx="14" ry="14" fill="#1a1a50" />
<ellipse cx="545" cy="852" rx="16" ry="12" fill="#1a1a50" />
<polygon points="440,440 435,540 500,600 580,580 640,490 630,400" fill="#8a5840" />
<ellipse cx="655" cy="340" rx="26" ry="56" fill="#a87058" />
<path d="M385 295 C385 205 425 155 505 150 C585 155 630 215 633 305 C633 405 615 485 575 525 C540 560 485 555 455 525 C405 470 385 385 385 295 Z" fill="url(#skinC)" />
<path d="M372 290 C375 185 425 123 515 115 C605 119 660 185 673 290 L655 330 L617 318 C612 250 587 217 547 197 C502 183 452 191 425 221 C407 245 397 270 395 292 Z" fill="#0c0c10" />
<ellipse cx="428" cy="318" rx="30" ry="13" fill="#1a1010" />
<ellipse cx="535" cy="315" rx="30" ry="13" fill="#1a1010" />
<path d="M392 290 C418 270 452 272 472 288 L470 300 C448 288 418 288 394 303 Z" fill="#150c0c" />
<path d="M502 285 C532 270 572 272 594 292 L590 304 C566 290 532 290 504 298 Z" fill="#150c0c" />
<ellipse cx="462" cy="370" rx="26" ry="55" fill="#d09878" opacity="0.5"/>
<ellipse cx="468" cy="410" rx="36" ry="12" fill="#4a2a20" />
<ellipse cx="470" cy="462" rx="44" ry="15" fill="#3a1414" />
<ellipse cx="472" cy="476" rx="32" ry="8" fill="#a86464" />
<path d="M130 1065 L140 705 L180 652 L330 572 L418 512 L440 600 L500 870 L600 1050 L640 900 L680 700 L665 512 L780 582 L950 642 L1000 760 L1060 905 L1060 1065 Z" fill="url(#suitC3)" />
<path d="M418 512 L300 610 L325 655 L295 690 L560 1060 L600 1050 L500 870 L440 600 Z" fill="#4d4d55" />
<path d="M665 512 L790 640 L745 665 L775 700 L640 1050 L600 1050 L640 900 L680 700 Z" fill="#45454c" />
<path d="M140 705 L130 1065 L330 1065 L250 850 Z" fill="#26262b" opacity="0.8"/>
<path d="M800 760 L1060 905 L1060 1065 L900 1065 Z" fill="#1c1c20" opacity="0.85"/>
<path d="M675 710 L740 740 L700 800 L680 760 Z" fill="#141418" />
<path d="M820 990 L885 1065 L815 1065 Z" fill="#f0f0f4" />
</g></g>
<clipPath id="tc10"><rect x="1056.0" y="784" width="146.79999999999995" height="147.60000000000002"/></clipPath>
<g clip-path="url(#tc10)">
<rect x="1055.0" y="783" width="148.79999999999995" height="149.60000000000002" fill="#030306"/>
<g transform="translate(1052 779) scale(0.14391)" filter="url(#pb7)">
<rect x="220" y="40" width="420" height="185" fill="#0c0c18" />
<rect x="225" y="45" width="70" height="60" fill="#e88a28" rx="12" opacity="0.92" filter="url(#b10)"/>
<rect x="300" y="40" width="120" height="55" fill="#7cc8f0" rx="12" opacity="0.92" filter="url(#b10)"/>
<rect x="425" y="48" width="60" height="50" fill="#f070a8" rx="12" opacity="0.92" filter="url(#b10)"/>
<rect x="490" y="45" width="70" height="55" fill="#8a70e8" rx="12" opacity="0.92" filter="url(#b10)"/>
<rect x="565" y="70" width="70" height="60" fill="#f09030" rx="12" opacity="0.92" filter="url(#b10)"/>
<rect x="225" y="125" width="50" height="85" fill="#c8b040" rx="12" opacity="0.92" filter="url(#b10)"/>
<rect x="285" y="150" width="90" height="65" fill="#b4dc70" rx="12" opacity="0.92" filter="url(#b10)"/>
<rect x="300" y="100" width="60" height="40" fill="#70c0e8" rx="12" opacity="0.92" filter="url(#b10)"/>
<rect x="590" y="90" width="50" height="60" fill="#a8d070" rx="12" opacity="0.92" filter="url(#b10)"/>
<ellipse cx="880" cy="182" rx="165" ry="16" fill="#101cb4" />
<ellipse cx="290" cy="383" rx="72" ry="13" fill="#0c1490" />
<ellipse cx="890" cy="530" rx="115" ry="15" fill="#0e189c" />
<path d="M890 700 C900 640 960 615 1050 620 L1050 700 Z" fill="#8e5618" />
<path d="M890 700 L1050 700 L1050 720 L890 715 Z" fill="#8a4a10" />
<path d="M20 405 L210 470 L268 500 L250 535 L215 545 L105 840 L20 855 Z" fill="#b8a878" />
<path d="M20 425 L200 485 L215 540 L95 825 L20 840 Z" fill="url(#monD)" />
<path d="M210 480 L260 505 L245 530 L215 540 Z" fill="#2a50d0" />
<rect x="20" y="880" width="75" height="150" fill="#2848c8" />
<rect x="20" y="905" width="80" height="14" fill="#c8b888" />
<g transform="translate(0 0)">
<polygon points="385,460 375,560 370,860 405,880 545,600 585,425 540,520 450,545" fill="#f2f0ee" />
<polygon points="480,600 405,870 545,600 575,470" fill="#d4cecc" />
<polygon points="420,578 455,545 482,580 470,622 487,760 420,1025 385,950 385,760 425,640" fill="url(#tieD)" />
<polygon points="395,400 390,480 450,548 540,520 585,430 580,360" fill="#8a5844" />
<ellipse cx="612" cy="330" rx="26" ry="54" fill="#b07a64" />
<path d="M352 270 C352 190 390 140 465 135 C540 140 582 195 585 280 C585 370 570 450 535 490 C500 525 440 520 410 490 C368 440 352 360 352 270 Z" fill="url(#skinD)" />
<path d="M345 270 C345 160 400 92 480 85 C560 85 600 140 605 215 L612 300 L585 330 L568 250 C552 205 515 182 468 178 C420 178 384 200 370 240 L360 285 Z" fill="#0a0a0c" />
<path d="M372 262 C400 246 440 250 462 268 L460 280 C435 268 400 266 374 277 Z" fill="#150c0c" />
<path d="M492 262 C520 250 555 255 572 272 L568 284 C548 270 520 268 494 275 Z" fill="#150c0c" />
<ellipse cx="415" cy="290" rx="28" ry="10" fill="#2a1814" />
<ellipse cx="528" cy="290" rx="28" ry="10" fill="#2a1814" />
<ellipse cx="450" cy="320" rx="24" ry="50" fill="#e0ac90" opacity="0.5"/>
<ellipse cx="452" cy="358" rx="34" ry="11" fill="#5a3428" />
<ellipse cx="442" cy="418" rx="40" ry="24" fill="#3a1414" />
<ellipse cx="440" cy="426" rx="30" ry="12" fill="#e0a0a0" />
<path d="M40 1065 L80 950 L150 600 L182 565 L300 505 L388 462 L375 560 L370 860 L405 1035 L545 600 L585 428 L602 445 L820 560 L880 600 L910 800 L960 1030 L960 1065 Z" fill="url(#suitD)" />
<path d="M388 462 L285 545 L270 600 L300 625 L395 1040 L405 1035 L370 860 L375 560 Z" fill="#1c1a1f" />
<path d="M585 428 L680 560 L600 630 L640 665 L415 1040 L405 1035 L545 600 Z" fill="#161418" />
<path d="M150 600 L80 950 L40 1065 L200 1065 L185 800 Z" fill="#0e0c10" opacity="0.75"/>
<path d="M530 905 L720 870 L725 890 L535 925 Z" fill="#100e12" />
<ellipse cx="515" cy="745" rx="30" ry="14" fill="#060606" />
<ellipse cx="410" cy="700" rx="18" ry="10" fill="#060606" />
<ellipse cx="152" cy="1048" rx="24" ry="18" fill="#e0a888" />
<ellipse cx="285" cy="1045" rx="36" ry="20" fill="#e0a888" />
<ellipse cx="60" cy="1055" rx="40" ry="10" fill="#e0a888" />
</g>
</g></g>
<clipPath id="tc11"><rect x="1202.8" y="784" width="146.20000000000005" height="147.60000000000002"/></clipPath>
<g clip-path="url(#tc11)">
<rect x="1201.8" y="783" width="148.20000000000005" height="149.60000000000002" fill="#030306"/>
<g transform="translate(1198 779) scale(0.14391)" filter="url(#pb7)">
<rect x="330" y="40" width="365" height="198" fill="#0c0c18" />
<rect x="335" y="45" width="90" height="60" fill="#e89030" rx="12" opacity="0.92" filter="url(#b10)"/>
<rect x="430" y="55" width="150" height="55" fill="#80d4e8" rx="12" opacity="0.92" filter="url(#b10)"/>
<rect x="585" y="60" width="100" height="60" fill="#9ce0e0" rx="12" opacity="0.92" filter="url(#b10)"/>
<rect x="470" y="50" width="60" height="40" fill="#f08098" rx="12" opacity="0.92" filter="url(#b10)"/>
<rect x="560" y="145" width="60" height="85" fill="#a0e0e8" rx="12" opacity="0.92" filter="url(#b10)"/>
<rect x="625" y="145" width="65" height="90" fill="#f0a040" rx="12" opacity="0.92" filter="url(#b10)"/>
<rect x="530" y="160" width="40" height="70" fill="#60c080" rx="12" opacity="0.92" filter="url(#b10)"/>
<rect x="660" y="140" width="35" height="95" fill="#b0e060" rx="12" opacity="0.92" filter="url(#b10)"/>
<ellipse cx="910" cy="182" rx="140" ry="16" fill="#101cb4" />
<ellipse cx="470" cy="385" rx="210" ry="11" fill="#0c1490" />
<ellipse cx="880" cy="525" rx="125" ry="14" fill="#0e189c" />
<path d="M850 700 C870 650 960 635 1060 640 L1060 700 Z" fill="#8e5618" />
<path d="M850 700 L1060 700 L1060 718 L850 712 Z" fill="#8a4a10" />
<ellipse cx="1020" cy="600" rx="40" ry="40" fill="#1a2a40" opacity="0.8"/>
<path d="M20 398 L235 460 L305 492 L290 520 L240 530 L110 850 L20 870 Z" fill="#b8a878" />
<path d="M20 418 L228 478 L238 525 L100 838 L20 858 Z" fill="url(#monD)" />
<path d="M240 478 L298 498 L285 518 L243 525 Z" fill="#2a50d0" />
<rect x="20" y="940" width="48" height="120" fill="#2848c8" />
<rect x="20" y="928" width="55" height="12" fill="#c8b888" />
<rect x="1050" y="400" width="20" height="460" fill="#d8ecfa" />
<rect x="20" y="640" width="16" height="60" fill="#c07818" />
<ellipse cx="20" cy="182" rx="18" ry="10" fill="#101cb4" />
<g transform="translate(-60 0)">
<polygon points="385,460 375,560 370,860 405,880 545,600 585,425 540,520 450,545" fill="#f2f0ee" />
<polygon points="480,600 405,870 545,600 575,470" fill="#d4cecc" />
<polygon points="420,578 455,545 482,580 470,622 487,760 420,1025 385,950 385,760 425,640" fill="url(#tieD)" />
<polygon points="395,400 390,480 450,548 540,520 585,430 580,360" fill="#8a5844" />
<ellipse cx="612" cy="330" rx="26" ry="54" fill="#b07a64" />
<path d="M352 270 C352 190 390 140 465 135 C540 140 582 195 585 280 C585 370 570 450 535 490 C500 525 440 520 410 490 C368 440 352 360 352 270 Z" fill="url(#skinD)" />
<path d="M345 270 C345 160 400 92 480 85 C560 85 600 140 605 215 L612 300 L585 330 L568 250 C552 205 515 182 468 178 C420 178 384 200 370 240 L360 285 Z" fill="#0a0a0c" />
<path d="M372 262 C400 246 440 250 462 268 L460 280 C435 268 400 266 374 277 Z" fill="#150c0c" />
<path d="M492 262 C520 250 555 255 572 272 L568 284 C548 270 520 268 494 275 Z" fill="#150c0c" />
<ellipse cx="415" cy="290" rx="28" ry="10" fill="#2a1814" />
<ellipse cx="528" cy="290" rx="28" ry="10" fill="#2a1814" />
<ellipse cx="450" cy="320" rx="24" ry="50" fill="#e0ac90" opacity="0.5"/>
<ellipse cx="452" cy="358" rx="34" ry="11" fill="#5a3428" />
<ellipse cx="442" cy="420" rx="44" ry="24" fill="#3a1414" />
<ellipse cx="442" cy="428" rx="36" ry="13" fill="#e08888" />
<path d="M40 1065 L80 950 L150 600 L182 565 L300 505 L388 462 L375 560 L370 860 L405 1035 L545 600 L585 428 L602 445 L820 560 L880 600 L910 800 L960 1030 L960 1065 Z" fill="url(#suitD)" />
<path d="M388 462 L285 545 L270 600 L300 625 L395 1040 L405 1035 L370 860 L375 560 Z" fill="#1c1a1f" />
<path d="M585 428 L680 560 L600 630 L640 665 L415 1040 L405 1035 L545 600 Z" fill="#161418" />
<path d="M150 600 L80 950 L40 1065 L200 1065 L185 800 Z" fill="#0e0c10" opacity="0.75"/>
<path d="M530 905 L720 870 L725 890 L535 925 Z" fill="#100e12" />
<ellipse cx="515" cy="745" rx="30" ry="14" fill="#060606" />
<ellipse cx="410" cy="700" rx="18" ry="10" fill="#060606" />
<ellipse cx="350" cy="1052" rx="50" ry="10" fill="#d8a080" />
</g>
</g></g>
<clipPath id="tc12"><rect x="1349.0" y="784" width="148.0" height="147.60000000000002"/></clipPath>
<g clip-path="url(#tc12)">
<rect x="1348.0" y="783" width="150.0" height="149.60000000000002" fill="#030306"/>
<g transform="translate(1345 779) scale(0.14391)" filter="url(#pb7)">
<rect x="370" y="40" width="365" height="198" fill="#0c0c18" />
<rect x="375" y="45" width="90" height="60" fill="#e89030" rx="12" opacity="0.92" filter="url(#b10)"/>
<rect x="470" y="55" width="150" height="55" fill="#80d4e8" rx="12" opacity="0.92" filter="url(#b10)"/>
<rect x="625" y="60" width="100" height="60" fill="#9ce0e0" rx="12" opacity="0.92" filter="url(#b10)"/>
<rect x="510" y="50" width="60" height="40" fill="#f08098" rx="12" opacity="0.92" filter="url(#b10)"/>
<rect x="600" y="145" width="60" height="85" fill="#a0e0e8" rx="12" opacity="0.92" filter="url(#b10)"/>
<rect x="665" y="145" width="65" height="90" fill="#f0a040" rx="12" opacity="0.92" filter="url(#b10)"/>
<rect x="570" y="160" width="40" height="70" fill="#60c080" rx="12" opacity="0.92" filter="url(#b10)"/>
<rect x="700" y="140" width="35" height="95" fill="#b0e060" rx="12" opacity="0.92" filter="url(#b10)"/>
<ellipse cx="910" cy="182" rx="140" ry="16" fill="#101cb4" />
<ellipse cx="485" cy="385" rx="210" ry="11" fill="#0c1490" />
<ellipse cx="895" cy="525" rx="125" ry="14" fill="#0e189c" />
<path d="M865 700 C885 650 960 635 1060 640 L1060 700 Z" fill="#8e5618" />
<path d="M865 700 L1060 700 L1060 718 L865 712 Z" fill="#8a4a10" />
<ellipse cx="1020" cy="600" rx="40" ry="40" fill="#1a2a40" opacity="0.8"/>
<path d="M12 398 L227 460 L297 492 L282 520 L232 530 L102 850 L12 870 Z" fill="#b8a878" />
<path d="M12 418 L220 478 L230 525 L92 838 L12 858 Z" fill="url(#monD)" />
<path d="M232 478 L290 498 L277 518 L235 525 Z" fill="#2a50d0" />
<rect x="20" y="940" width="48" height="120" fill="#2848c8" />
<rect x="20" y="928" width="55" height="12" fill="#c8b888" />
<rect x="20" y="640" width="10" height="60" fill="#c07818" />
<ellipse cx="20" cy="182" rx="14" ry="10" fill="#101cb4" />
<g transform="translate(-45 0)">
<polygon points="385,460 375,560 370,860 405,880 545,600 585,425 540,520 450,545" fill="#f2f0ee" />
<polygon points="480,600 405,870 545,600 575,470" fill="#d4cecc" />
<polygon points="420,578 455,545 482,580 470,622 487,760 420,1025 385,950 385,760 425,640" fill="url(#tieD)" />
<polygon points="395,400 390,480 450,548 540,520 585,430 580,360" fill="#8a5844" />
<ellipse cx="612" cy="330" rx="26" ry="54" fill="#b07a64" />
<path d="M352 270 C352 190 390 140 465 135 C540 140 582 195 585 280 C585 370 570 450 535 490 C500 525 440 520 410 490 C368 440 352 360 352 270 Z" fill="url(#skinD)" />
<path d="M345 270 C345 160 400 92 480 85 C560 85 600 140 605 215 L612 300 L585 330 L568 250 C552 205 515 182 468 178 C420 178 384 200 370 240 L360 285 Z" fill="#0a0a0c" />
<path d="M372 262 C400 246 440 250 462 268 L460 280 C435 268 400 266 374 277 Z" fill="#150c0c" />
<path d="M492 262 C520 250 555 255 572 272 L568 284 C548 270 520 268 494 275 Z" fill="#150c0c" />
<ellipse cx="415" cy="290" rx="28" ry="10" fill="#2a1814" />
<ellipse cx="528" cy="290" rx="28" ry="10" fill="#2a1814" />
<ellipse cx="450" cy="320" rx="24" ry="50" fill="#e0ac90" opacity="0.5"/>
<ellipse cx="452" cy="358" rx="34" ry="11" fill="#5a3428" />
<ellipse cx="442" cy="420" rx="42" ry="15" fill="#5a2424" />
<ellipse cx="442" cy="428" rx="30" ry="8" fill="#c88080" />
<path d="M40 1065 L80 950 L150 600 L182 565 L300 505 L388 462 L375 560 L370 860 L405 1035 L545 600 L585 428 L602 445 L820 560 L880 600 L910 800 L960 1030 L960 1065 Z" fill="url(#suitD)" />
<path d="M388 462 L285 545 L270 600 L300 625 L395 1040 L405 1035 L370 860 L375 560 Z" fill="#1c1a1f" />
<path d="M585 428 L680 560 L600 630 L640 665 L415 1040 L405 1035 L545 600 Z" fill="#161418" />
<path d="M150 600 L80 950 L40 1065 L200 1065 L185 800 Z" fill="#0e0c10" opacity="0.75"/>
<path d="M530 905 L720 870 L725 890 L535 925 Z" fill="#100e12" />
<ellipse cx="515" cy="745" rx="30" ry="14" fill="#060606" />
<ellipse cx="410" cy="700" rx="18" ry="10" fill="#060606" />
</g>
</g></g>
<rect x="1511" y="585" width="60" height="400" fill="#fff"/>
<text x="645.40" y="621.90" font-size="23.5" font-family="'Liberation Sans',sans-serif" fill="#000" font-weight="bold" textLength="74.20" lengthAdjust="spacingAndGlyphs">Frame 1</text>
<text x="784.60" y="621.60" font-size="23.5" font-family="'Liberation Sans',sans-serif" fill="#000" font-weight="bold" textLength="89.70" lengthAdjust="spacingAndGlyphs">Frame 17</text>
<text x="931.10" y="623.10" font-size="23.5" font-family="'Liberation Sans',sans-serif" fill="#000" font-weight="bold" textLength="89.10" lengthAdjust="spacingAndGlyphs">Frame 25</text>
<text x="1093.30" y="621.90" font-size="23.5" font-family="'Liberation Sans',sans-serif" fill="#000" font-weight="bold" textLength="74.20" lengthAdjust="spacingAndGlyphs">Frame 1</text>
<text x="1229.20" y="620.60" font-size="23.5" font-family="'Liberation Sans',sans-serif" fill="#000" font-weight="bold" textLength="88.80" lengthAdjust="spacingAndGlyphs">Frame 17</text>
<text x="1375.10" y="621.90" font-size="23.5" font-family="'Liberation Sans',sans-serif" fill="#000" font-weight="bold" textLength="89.10" lengthAdjust="spacingAndGlyphs">Frame 25</text>
<text x="567.90" y="732.40" font-size="26.5" font-family="'Liberation Sans',sans-serif" fill="#000" textLength="44.50" lengthAdjust="spacingAndGlyphs" transform="rotate(-90 567.90 732.40)" stroke="#000" stroke-width="1.0">w/o</text>
<text x="567.90" y="869.70" font-size="26.5" font-family="'Liberation Sans',sans-serif" fill="#000" textLength="29.00" lengthAdjust="spacingAndGlyphs" transform="rotate(-90 567.90 869.70)" stroke="#000" stroke-width="1.0">w/</text>
<text x="601.20" y="898.10" font-size="26" font-family="'Liberation Sans',sans-serif" fill="#000" textLength="240.00" lengthAdjust="spacingAndGlyphs" transform="rotate(-90 601.20 898.10)" stroke="#000" stroke-width="0.7">AR-DF Inference Mask</text>
</svg></body></html>
